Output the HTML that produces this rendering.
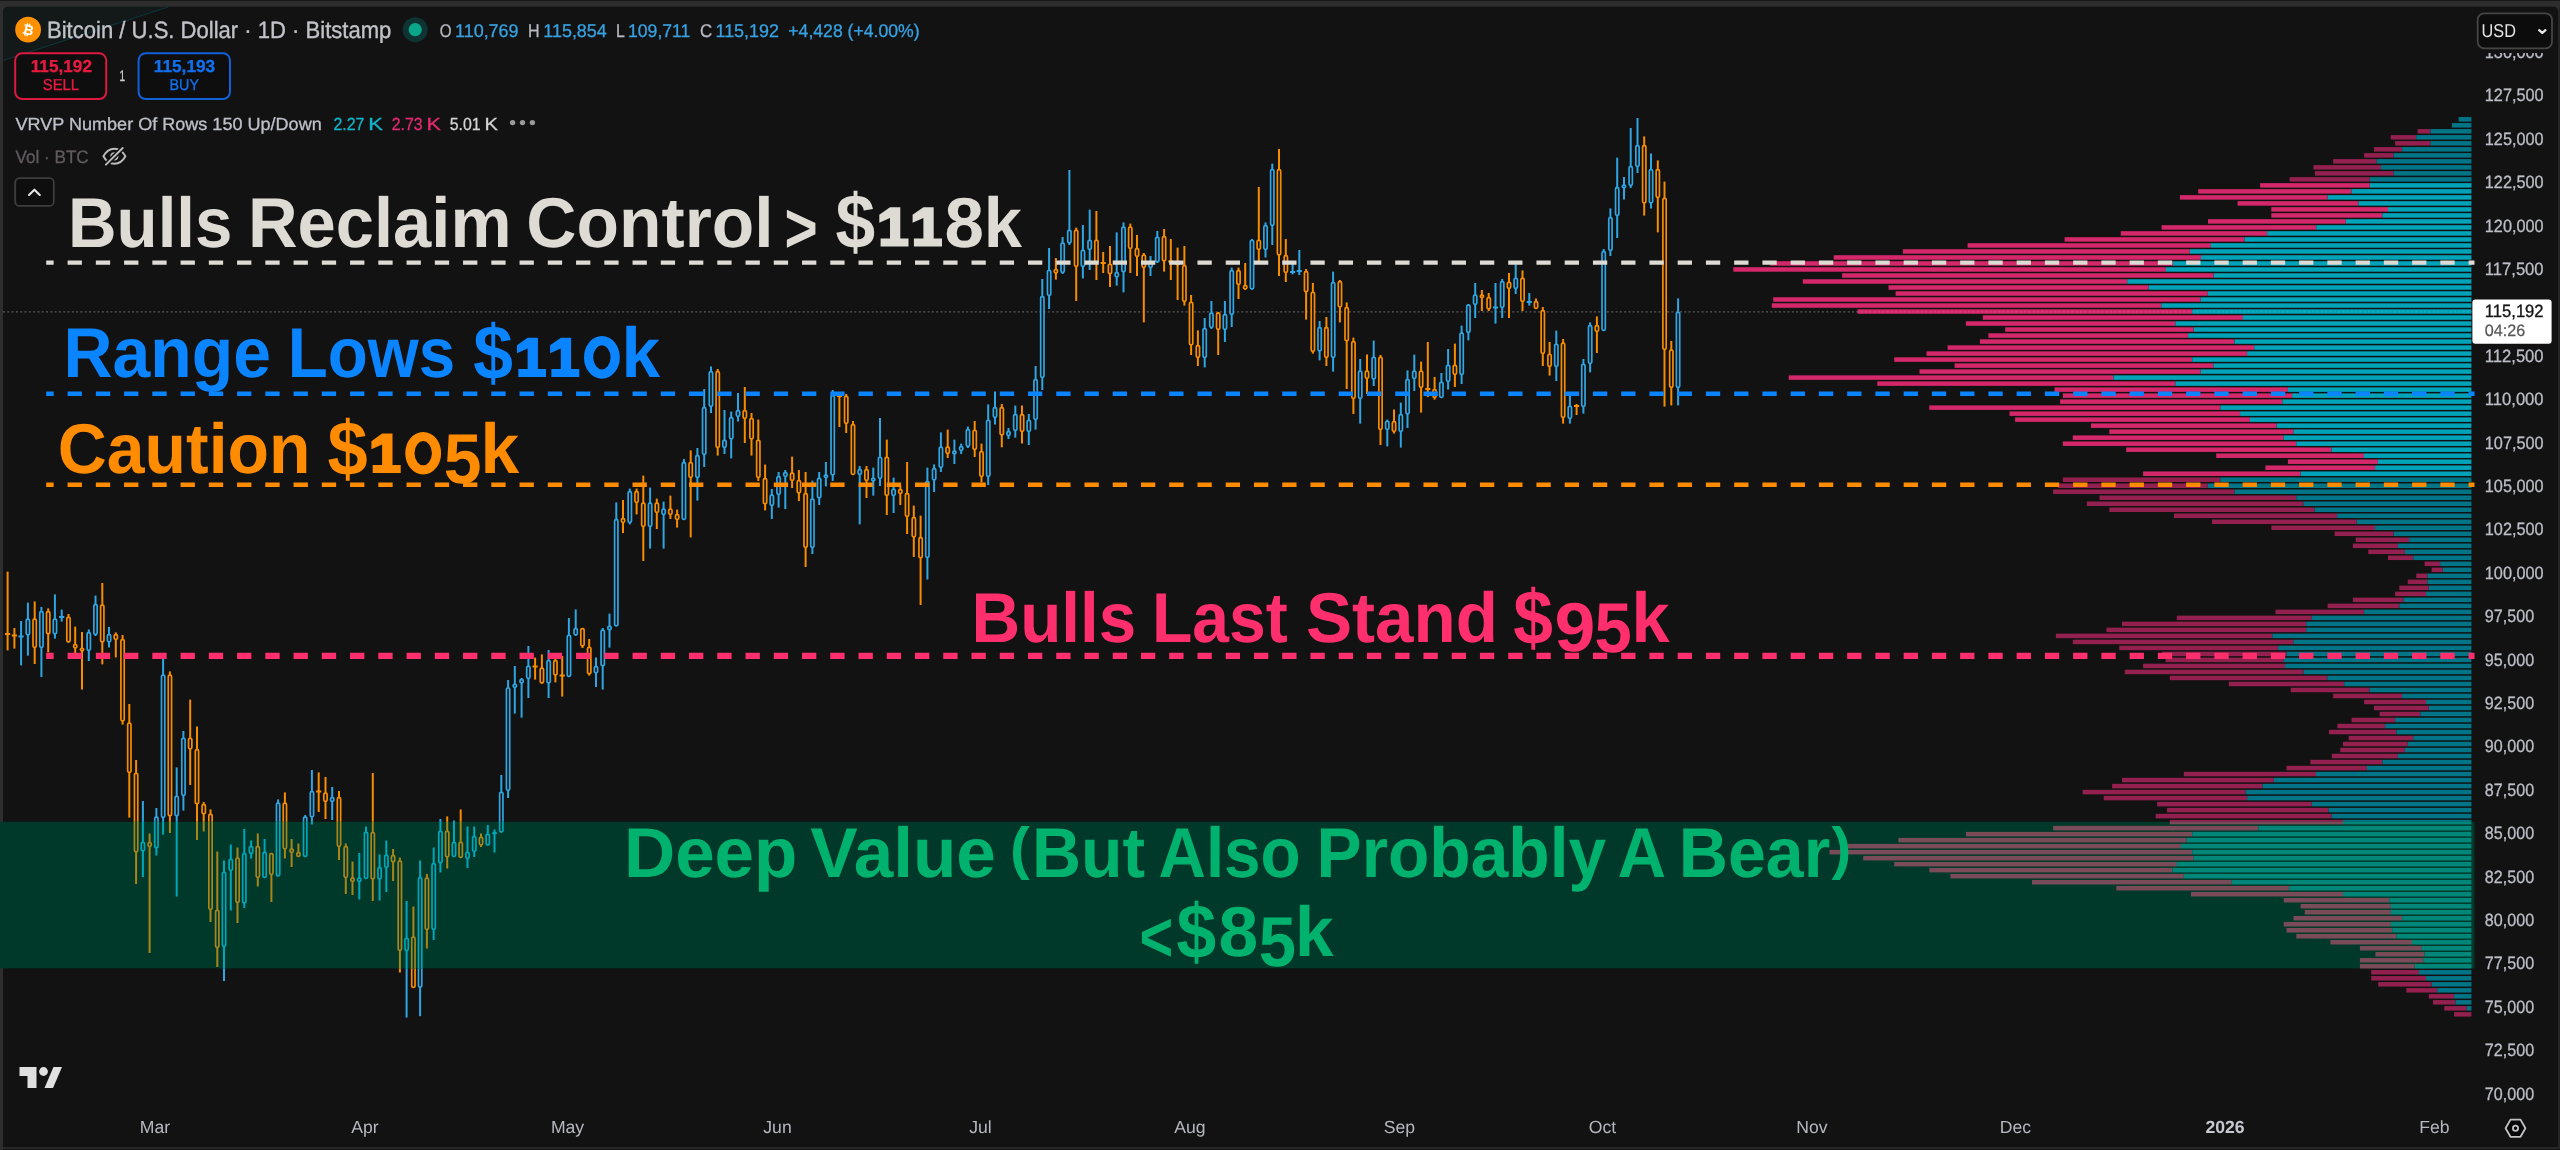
<!DOCTYPE html>
<html><head><meta charset="utf-8"><title>BTCUSD chart</title>
<style>html,body{margin:0;padding:0;background:#121212;overflow:hidden}body{width:2560px;height:1150px;position:relative;font-family:"Liberation Sans",sans-serif}svg{position:absolute;left:0;top:0;display:block;will-change:transform}text{font-family:"Liberation Sans",sans-serif;text-rendering:geometricPrecision}.b{font-weight:bold}</style>
</head><body>
<svg width="2560" height="1150" viewBox="0 0 2560 1150">
<rect x="0" y="0" width="2560" height="1150" fill="#2d2d2d"/>
<rect x="0" y="0" width="2560" height="1" fill="#181818"/>
<path d="M3 1150 V12 Q3 6.7 8.5 6.7 H2553.5 Q2558 6.7 2558 11.5 V1150 Z" fill="#121212"/>
<rect x="2558" y="8" width="2" height="1142" fill="#262626"/>
<rect x="0" y="1" width="3" height="1149" fill="#2e2e2e"/>
<rect x="3" y="1147" width="2555" height="2" fill="#262828"/>
<rect x="3" y="1149" width="2557" height="1" fill="#151515"/>
<path d="M3 60.5 L168 7 L10 7 Q3 7 3 14 Z" fill="#131819"/>
<path d="M3 60.5 L168 7" stroke="#0e363b" stroke-width="1.1" fill="none"/>
<line x1="3" y1="311.9" x2="2474" y2="311.9" stroke="#5a5a5a" stroke-width="1.1" stroke-dasharray="2 2.3"/>
<g fill="#121212">
<path d="M7.6 571.6V650.4" stroke="#f78c00" stroke-width="2"/>
<path d="M5.0 634.0H10.2" stroke="#f78c00" stroke-width="2"/>
<path d="M14.4 628.0V648.6" stroke="#f78c00" stroke-width="2"/>
<path d="M11.8 635.5H17.0" stroke="#f78c00" stroke-width="2"/>
<path d="M21.1 621.0V665.4" stroke="#2fa6e3" stroke-width="2"/>
<path d="M18.5 636.5H23.7" stroke="#2fa6e3" stroke-width="2"/>
<path d="M27.9 602.6V655.6" stroke="#2fa6e3" stroke-width="2"/>
<rect x="26.24" y="619.1" width="3.3" height="15.8" rx="1.3" stroke="#2fa6e3" stroke-width="1.7"/>
<path d="M34.7 601.4V664.0" stroke="#f78c00" stroke-width="2"/>
<rect x="33.00" y="619.1" width="3.3" height="28.2" rx="1.3" stroke="#f78c00" stroke-width="1.7"/>
<path d="M41.4 607.0V677.0" stroke="#2fa6e3" stroke-width="2"/>
<rect x="39.77" y="611.7" width="3.3" height="35.6" rx="1.3" stroke="#2fa6e3" stroke-width="1.7"/>
<path d="M48.2 608.4V652.4" stroke="#f78c00" stroke-width="2"/>
<rect x="46.53" y="611.7" width="3.3" height="22.0" rx="1.3" stroke="#f78c00" stroke-width="1.7"/>
<path d="M54.9 594.4V638.6" stroke="#2fa6e3" stroke-width="2"/>
<rect x="53.29" y="619.1" width="3.3" height="14.6" rx="1.3" stroke="#2fa6e3" stroke-width="1.7"/>
<path d="M61.7 609.6V621.6" stroke="#2fa6e3" stroke-width="2"/>
<path d="M59.1 617.0H64.3" stroke="#2fa6e3" stroke-width="2"/>
<path d="M68.5 614.0V642.6" stroke="#f78c00" stroke-width="2"/>
<rect x="66.82" y="617.3" width="3.3" height="24.6" rx="1.3" stroke="#f78c00" stroke-width="1.7"/>
<path d="M75.2 626.6V653.0" stroke="#f78c00" stroke-width="2"/>
<rect x="73.58" y="644.7" width="3.3" height="3.2" rx="1.3" stroke="#f78c00" stroke-width="1.7"/>
<path d="M82.0 632.0V689.6" stroke="#f78c00" stroke-width="2"/>
<rect x="80.34" y="648.3" width="3.3" height="2.6" rx="1.3" stroke="#f78c00" stroke-width="1.7"/>
<path d="M88.8 629.4V661.0" stroke="#2fa6e3" stroke-width="2"/>
<rect x="87.11" y="632.7" width="3.3" height="17.6" rx="1.3" stroke="#2fa6e3" stroke-width="1.7"/>
<path d="M95.5 595.6V636.0" stroke="#2fa6e3" stroke-width="2"/>
<rect x="93.87" y="604.7" width="3.3" height="29.6" rx="1.3" stroke="#2fa6e3" stroke-width="1.7"/>
<path d="M102.3 583.0V664.4" stroke="#f78c00" stroke-width="2"/>
<rect x="100.63" y="605.1" width="3.3" height="36.8" rx="1.3" stroke="#f78c00" stroke-width="1.7"/>
<path d="M109.0 627.0V647.4" stroke="#2fa6e3" stroke-width="2"/>
<rect x="107.39" y="634.7" width="3.3" height="7.2" rx="1.3" stroke="#2fa6e3" stroke-width="1.7"/>
<path d="M115.8 632.4V657.4" stroke="#f78c00" stroke-width="2"/>
<rect x="114.16" y="634.7" width="3.3" height="4.6" rx="1.3" stroke="#f78c00" stroke-width="1.7"/>
<path d="M122.6 635.0V724.6" stroke="#f78c00" stroke-width="2"/>
<rect x="120.92" y="639.7" width="3.3" height="81.2" rx="1.3" stroke="#f78c00" stroke-width="1.7"/>
<path d="M129.3 704.0V817.6" stroke="#f78c00" stroke-width="2"/>
<rect x="127.68" y="723.1" width="3.3" height="49.2" rx="1.3" stroke="#f78c00" stroke-width="1.7"/>
<path d="M136.1 760.0V884.0" stroke="#f78c00" stroke-width="2"/>
<rect x="134.45" y="773.3" width="3.3" height="78.6" rx="1.3" stroke="#f78c00" stroke-width="1.7"/>
<path d="M142.9 801.0V877.0" stroke="#2fa6e3" stroke-width="2"/>
<rect x="141.21" y="842.3" width="3.3" height="8.6" rx="1.3" stroke="#2fa6e3" stroke-width="1.7"/>
<path d="M149.6 833.6V953.0" stroke="#f78c00" stroke-width="2"/>
<rect x="147.97" y="842.7" width="3.3" height="3.6" rx="1.3" stroke="#f78c00" stroke-width="1.7"/>
<path d="M156.4 808.0V855.6" stroke="#2fa6e3" stroke-width="2"/>
<rect x="154.74" y="817.1" width="3.3" height="30.6" rx="1.3" stroke="#2fa6e3" stroke-width="1.7"/>
<path d="M163.1 658.6V834.4" stroke="#2fa6e3" stroke-width="2"/>
<rect x="161.50" y="675.1" width="3.3" height="142.2" rx="1.3" stroke="#2fa6e3" stroke-width="1.7"/>
<path d="M169.9 671.4V833.0" stroke="#f78c00" stroke-width="2"/>
<rect x="168.26" y="675.1" width="3.3" height="140.6" rx="1.3" stroke="#f78c00" stroke-width="1.7"/>
<path d="M176.7 767.4V896.4" stroke="#2fa6e3" stroke-width="2"/>
<rect x="175.02" y="796.3" width="3.3" height="19.4" rx="1.3" stroke="#2fa6e3" stroke-width="1.7"/>
<path d="M183.4 731.0V810.6" stroke="#2fa6e3" stroke-width="2"/>
<rect x="181.79" y="738.3" width="3.3" height="57.0" rx="1.3" stroke="#2fa6e3" stroke-width="1.7"/>
<path d="M190.2 699.6V785.0" stroke="#f78c00" stroke-width="2"/>
<rect x="188.55" y="738.3" width="3.3" height="10.6" rx="1.3" stroke="#f78c00" stroke-width="1.7"/>
<path d="M197.0 726.6V840.0" stroke="#f78c00" stroke-width="2"/>
<rect x="195.31" y="749.7" width="3.3" height="54.0" rx="1.3" stroke="#f78c00" stroke-width="1.7"/>
<path d="M203.7 802.0V831.6" stroke="#f78c00" stroke-width="2"/>
<rect x="202.08" y="804.7" width="3.3" height="9.0" rx="1.3" stroke="#f78c00" stroke-width="1.7"/>
<path d="M210.5 809.4V922.0" stroke="#f78c00" stroke-width="2"/>
<rect x="208.84" y="814.3" width="3.3" height="95.0" rx="1.3" stroke="#f78c00" stroke-width="1.7"/>
<path d="M217.3 851.6V967.0" stroke="#f78c00" stroke-width="2"/>
<rect x="215.60" y="910.3" width="3.3" height="37.0" rx="1.3" stroke="#f78c00" stroke-width="1.7"/>
<path d="M224.0 860.4V981.0" stroke="#2fa6e3" stroke-width="2"/>
<rect x="222.37" y="872.3" width="3.3" height="74.0" rx="1.3" stroke="#2fa6e3" stroke-width="1.7"/>
<path d="M230.8 844.6V910.6" stroke="#2fa6e3" stroke-width="2"/>
<rect x="229.13" y="859.3" width="3.3" height="11.0" rx="1.3" stroke="#2fa6e3" stroke-width="1.7"/>
<path d="M237.5 847.4V923.0" stroke="#f78c00" stroke-width="2"/>
<rect x="235.89" y="858.1" width="3.3" height="44.2" rx="1.3" stroke="#f78c00" stroke-width="1.7"/>
<path d="M244.3 829.0V908.0" stroke="#2fa6e3" stroke-width="2"/>
<rect x="242.65" y="853.7" width="3.3" height="49.2" rx="1.3" stroke="#2fa6e3" stroke-width="1.7"/>
<path d="M251.1 840.4V858.4" stroke="#2fa6e3" stroke-width="2"/>
<rect x="249.42" y="846.7" width="3.3" height="6.6" rx="1.3" stroke="#2fa6e3" stroke-width="1.7"/>
<path d="M257.8 833.6V886.6" stroke="#f78c00" stroke-width="2"/>
<rect x="256.18" y="846.7" width="3.3" height="30.6" rx="1.3" stroke="#f78c00" stroke-width="1.7"/>
<path d="M264.6 839.0V878.0" stroke="#2fa6e3" stroke-width="2"/>
<rect x="262.94" y="852.3" width="3.3" height="25.0" rx="1.3" stroke="#2fa6e3" stroke-width="1.7"/>
<path d="M271.4 853.0V902.0" stroke="#f78c00" stroke-width="2"/>
<rect x="269.71" y="853.7" width="3.3" height="20.6" rx="1.3" stroke="#f78c00" stroke-width="1.7"/>
<path d="M278.1 799.4V876.4" stroke="#2fa6e3" stroke-width="2"/>
<rect x="276.47" y="803.1" width="3.3" height="72.6" rx="1.3" stroke="#2fa6e3" stroke-width="1.7"/>
<path d="M284.9 792.4V858.4" stroke="#f78c00" stroke-width="2"/>
<rect x="283.23" y="803.1" width="3.3" height="45.8" rx="1.3" stroke="#f78c00" stroke-width="1.7"/>
<path d="M291.6 839.0V867.0" stroke="#f78c00" stroke-width="2"/>
<rect x="290.00" y="849.1" width="3.3" height="3.2" rx="1.3" stroke="#f78c00" stroke-width="1.7"/>
<path d="M298.4 843.4V857.0" stroke="#f78c00" stroke-width="2"/>
<rect x="296.76" y="852.7" width="3.3" height="3.6" rx="1.3" stroke="#f78c00" stroke-width="1.7"/>
<path d="M305.2 815.0V857.0" stroke="#2fa6e3" stroke-width="2"/>
<rect x="303.52" y="817.1" width="3.3" height="39.2" rx="1.3" stroke="#2fa6e3" stroke-width="1.7"/>
<path d="M311.9 770.0V824.4" stroke="#2fa6e3" stroke-width="2"/>
<rect x="310.29" y="791.7" width="3.3" height="25.0" rx="1.3" stroke="#2fa6e3" stroke-width="1.7"/>
<path d="M318.7 772.4V812.0" stroke="#f78c00" stroke-width="2"/>
<path d="M316.1 791.5H321.3" stroke="#f78c00" stroke-width="2"/>
<path d="M325.5 777.0V819.0" stroke="#f78c00" stroke-width="2"/>
<rect x="323.81" y="793.1" width="3.3" height="8.2" rx="1.3" stroke="#f78c00" stroke-width="1.7"/>
<path d="M332.2 787.0V820.0" stroke="#2fa6e3" stroke-width="2"/>
<rect x="330.57" y="797.7" width="3.3" height="3.6" rx="1.3" stroke="#2fa6e3" stroke-width="1.7"/>
<path d="M339.0 791.0V860.0" stroke="#f78c00" stroke-width="2"/>
<rect x="337.34" y="797.7" width="3.3" height="48.6" rx="1.3" stroke="#f78c00" stroke-width="1.7"/>
<path d="M345.8 843.4V894.0" stroke="#f78c00" stroke-width="2"/>
<rect x="344.10" y="846.7" width="3.3" height="30.6" rx="1.3" stroke="#f78c00" stroke-width="1.7"/>
<path d="M352.5 861.6V895.0" stroke="#f78c00" stroke-width="2"/>
<rect x="350.86" y="878.1" width="3.3" height="3.2" rx="1.3" stroke="#f78c00" stroke-width="1.7"/>
<path d="M359.3 853.0V899.4" stroke="#2fa6e3" stroke-width="2"/>
<rect x="357.63" y="878.1" width="3.3" height="3.2" rx="1.3" stroke="#2fa6e3" stroke-width="1.7"/>
<path d="M366.0 826.4V879.0" stroke="#2fa6e3" stroke-width="2"/>
<rect x="364.39" y="832.3" width="3.3" height="46.0" rx="1.3" stroke="#2fa6e3" stroke-width="1.7"/>
<path d="M372.8 773.0V901.0" stroke="#f78c00" stroke-width="2"/>
<rect x="371.15" y="832.7" width="3.3" height="46.2" rx="1.3" stroke="#f78c00" stroke-width="1.7"/>
<path d="M379.6 854.6V900.4" stroke="#2fa6e3" stroke-width="2"/>
<rect x="377.92" y="867.7" width="3.3" height="11.2" rx="1.3" stroke="#2fa6e3" stroke-width="1.7"/>
<path d="M386.3 840.4V892.0" stroke="#2fa6e3" stroke-width="2"/>
<rect x="384.68" y="855.3" width="3.3" height="12.0" rx="1.3" stroke="#2fa6e3" stroke-width="1.7"/>
<path d="M393.1 849.0V881.0" stroke="#f78c00" stroke-width="2"/>
<rect x="391.44" y="855.7" width="3.3" height="6.0" rx="1.3" stroke="#f78c00" stroke-width="1.7"/>
<path d="M399.9 857.4V972.5" stroke="#f78c00" stroke-width="2"/>
<rect x="398.20" y="861.1" width="3.3" height="89.2" rx="1.3" stroke="#f78c00" stroke-width="1.7"/>
<path d="M406.6 901.0V1017.5" stroke="#2fa6e3" stroke-width="2"/>
<rect x="404.97" y="938.3" width="3.3" height="12.0" rx="1.3" stroke="#2fa6e3" stroke-width="1.7"/>
<path d="M413.4 906.6V988.0" stroke="#f78c00" stroke-width="2"/>
<rect x="411.73" y="937.1" width="3.3" height="50.2" rx="1.3" stroke="#f78c00" stroke-width="1.7"/>
<path d="M420.1 860.4V1016.2" stroke="#2fa6e3" stroke-width="2"/>
<rect x="418.49" y="877.7" width="3.3" height="109.4" rx="1.3" stroke="#2fa6e3" stroke-width="1.7"/>
<path d="M426.9 874.0V948.6" stroke="#f78c00" stroke-width="2"/>
<rect x="425.26" y="878.1" width="3.3" height="51.2" rx="1.3" stroke="#f78c00" stroke-width="1.7"/>
<path d="M433.7 847.6V940.0" stroke="#2fa6e3" stroke-width="2"/>
<rect x="432.02" y="863.7" width="3.3" height="65.6" rx="1.3" stroke="#2fa6e3" stroke-width="1.7"/>
<path d="M440.4 819.0V872.6" stroke="#2fa6e3" stroke-width="2"/>
<rect x="438.78" y="831.3" width="3.3" height="31.4" rx="1.3" stroke="#2fa6e3" stroke-width="1.7"/>
<path d="M447.2 816.4V868.4" stroke="#f78c00" stroke-width="2"/>
<rect x="445.55" y="831.3" width="3.3" height="25.6" rx="1.3" stroke="#f78c00" stroke-width="1.7"/>
<path d="M454.0 820.6V857.0" stroke="#2fa6e3" stroke-width="2"/>
<rect x="452.31" y="842.3" width="3.3" height="14.0" rx="1.3" stroke="#2fa6e3" stroke-width="1.7"/>
<path d="M460.7 809.4V858.0" stroke="#f78c00" stroke-width="2"/>
<rect x="459.07" y="842.3" width="3.3" height="15.0" rx="1.3" stroke="#f78c00" stroke-width="1.7"/>
<path d="M467.5 826.6V868.0" stroke="#2fa6e3" stroke-width="2"/>
<rect x="465.83" y="852.3" width="3.3" height="6.0" rx="1.3" stroke="#2fa6e3" stroke-width="1.7"/>
<path d="M474.2 826.6V857.0" stroke="#2fa6e3" stroke-width="2"/>
<rect x="472.60" y="836.7" width="3.3" height="14.6" rx="1.3" stroke="#2fa6e3" stroke-width="1.7"/>
<path d="M481.0 833.6V847.0" stroke="#f78c00" stroke-width="2"/>
<rect x="479.36" y="837.3" width="3.3" height="7.6" rx="1.3" stroke="#f78c00" stroke-width="1.7"/>
<path d="M487.8 825.0V845.6" stroke="#2fa6e3" stroke-width="2"/>
<rect x="486.12" y="834.3" width="3.3" height="10.6" rx="1.3" stroke="#2fa6e3" stroke-width="1.7"/>
<path d="M494.5 829.4V852.6" stroke="#2fa6e3" stroke-width="2"/>
<rect x="492.89" y="832.7" width="3.3" height="1.0" rx="1.3" stroke="#2fa6e3" stroke-width="1.7"/>
<path d="M501.3 775.0V832.6" stroke="#2fa6e3" stroke-width="2"/>
<rect x="499.65" y="792.3" width="3.3" height="39.6" rx="1.3" stroke="#2fa6e3" stroke-width="1.7"/>
<path d="M508.1 680.0V798.0" stroke="#2fa6e3" stroke-width="2"/>
<rect x="506.41" y="688.0" width="3.3" height="102.3" rx="1.3" stroke="#2fa6e3" stroke-width="1.7"/>
<path d="M514.8 666.0V713.6" stroke="#2fa6e3" stroke-width="2"/>
<rect x="513.17" y="684.3" width="3.3" height="3.0" rx="1.3" stroke="#2fa6e3" stroke-width="1.7"/>
<path d="M521.6 678.0V717.6" stroke="#2fa6e3" stroke-width="2"/>
<rect x="519.94" y="679.7" width="3.3" height="3.2" rx="1.3" stroke="#2fa6e3" stroke-width="1.7"/>
<path d="M528.4 646.0V698.0" stroke="#2fa6e3" stroke-width="2"/>
<rect x="526.70" y="666.3" width="3.3" height="12.0" rx="1.3" stroke="#2fa6e3" stroke-width="1.7"/>
<path d="M535.1 657.6V679.6" stroke="#f78c00" stroke-width="2"/>
<path d="M532.5 666.5H537.7" stroke="#f78c00" stroke-width="2"/>
<path d="M541.9 654.4V683.6" stroke="#f78c00" stroke-width="2"/>
<rect x="540.23" y="668.1" width="3.3" height="14.8" rx="1.3" stroke="#f78c00" stroke-width="1.7"/>
<path d="M548.6 650.0V698.0" stroke="#2fa6e3" stroke-width="2"/>
<rect x="546.99" y="660.7" width="3.3" height="22.2" rx="1.3" stroke="#2fa6e3" stroke-width="1.7"/>
<path d="M555.4 658.0V682.4" stroke="#f78c00" stroke-width="2"/>
<rect x="553.75" y="660.7" width="3.3" height="14.2" rx="1.3" stroke="#f78c00" stroke-width="1.7"/>
<path d="M562.2 656.0V696.6" stroke="#f78c00" stroke-width="2"/>
<path d="M559.6 675.5H564.8" stroke="#f78c00" stroke-width="2"/>
<path d="M568.9 618.0V677.0" stroke="#2fa6e3" stroke-width="2"/>
<rect x="567.28" y="635.3" width="3.3" height="41.0" rx="1.3" stroke="#2fa6e3" stroke-width="1.7"/>
<path d="M575.7 609.4V635.6" stroke="#2fa6e3" stroke-width="2"/>
<rect x="574.04" y="628.7" width="3.3" height="6.2" rx="1.3" stroke="#2fa6e3" stroke-width="1.7"/>
<path d="M582.5 628.0V648.0" stroke="#f78c00" stroke-width="2"/>
<rect x="580.81" y="628.7" width="3.3" height="17.2" rx="1.3" stroke="#f78c00" stroke-width="1.7"/>
<path d="M589.2 639.0V675.6" stroke="#f78c00" stroke-width="2"/>
<rect x="587.57" y="647.3" width="3.3" height="26.4" rx="1.3" stroke="#f78c00" stroke-width="1.7"/>
<path d="M596.0 657.6V687.0" stroke="#2fa6e3" stroke-width="2"/>
<rect x="594.33" y="666.7" width="3.3" height="6.2" rx="1.3" stroke="#2fa6e3" stroke-width="1.7"/>
<path d="M602.7 628.0V689.6" stroke="#2fa6e3" stroke-width="2"/>
<rect x="601.09" y="630.1" width="3.3" height="35.6" rx="1.3" stroke="#2fa6e3" stroke-width="1.7"/>
<path d="M609.5 613.6V647.6" stroke="#2fa6e3" stroke-width="2"/>
<rect x="607.86" y="626.3" width="3.3" height="3.4" rx="1.3" stroke="#2fa6e3" stroke-width="1.7"/>
<path d="M616.3 502.4V626.4" stroke="#2fa6e3" stroke-width="2"/>
<rect x="614.62" y="519.7" width="3.3" height="106.0" rx="1.3" stroke="#2fa6e3" stroke-width="1.7"/>
<path d="M623.0 500.0V533.0" stroke="#f78c00" stroke-width="2"/>
<rect x="621.38" y="518.7" width="3.3" height="3.6" rx="1.3" stroke="#f78c00" stroke-width="1.7"/>
<path d="M629.8 488.6V524.4" stroke="#2fa6e3" stroke-width="2"/>
<rect x="628.15" y="491.7" width="3.3" height="30.6" rx="1.3" stroke="#2fa6e3" stroke-width="1.7"/>
<path d="M636.6 488.6V514.4" stroke="#f78c00" stroke-width="2"/>
<rect x="634.91" y="491.7" width="3.3" height="10.6" rx="1.3" stroke="#f78c00" stroke-width="1.7"/>
<path d="M643.3 475.6V561.0" stroke="#f78c00" stroke-width="2"/>
<rect x="641.67" y="503.1" width="3.3" height="23.2" rx="1.3" stroke="#f78c00" stroke-width="1.7"/>
<path d="M650.1 487.6V548.6" stroke="#2fa6e3" stroke-width="2"/>
<rect x="648.44" y="503.1" width="3.3" height="23.2" rx="1.3" stroke="#2fa6e3" stroke-width="1.7"/>
<path d="M656.8 498.6V529.0" stroke="#f78c00" stroke-width="2"/>
<rect x="655.20" y="503.1" width="3.3" height="9.2" rx="1.3" stroke="#f78c00" stroke-width="1.7"/>
<path d="M663.6 501.6V548.6" stroke="#2fa6e3" stroke-width="2"/>
<rect x="661.96" y="509.1" width="3.3" height="5.2" rx="1.3" stroke="#2fa6e3" stroke-width="1.7"/>
<path d="M670.4 495.6V519.0" stroke="#f78c00" stroke-width="2"/>
<rect x="668.72" y="509.1" width="3.3" height="5.2" rx="1.3" stroke="#f78c00" stroke-width="1.7"/>
<path d="M677.1 509.6V527.6" stroke="#f78c00" stroke-width="2"/>
<rect x="675.49" y="514.7" width="3.3" height="4.6" rx="1.3" stroke="#f78c00" stroke-width="1.7"/>
<path d="M683.9 459.0V520.0" stroke="#2fa6e3" stroke-width="2"/>
<rect x="682.25" y="462.7" width="3.3" height="56.6" rx="1.3" stroke="#2fa6e3" stroke-width="1.7"/>
<path d="M690.7 450.4V537.4" stroke="#f78c00" stroke-width="2"/>
<rect x="689.01" y="462.7" width="3.3" height="14.6" rx="1.3" stroke="#f78c00" stroke-width="1.7"/>
<path d="M697.4 448.0V500.6" stroke="#2fa6e3" stroke-width="2"/>
<rect x="695.78" y="455.7" width="3.3" height="21.6" rx="1.3" stroke="#2fa6e3" stroke-width="1.7"/>
<path d="M704.2 389.0V467.0" stroke="#2fa6e3" stroke-width="2"/>
<rect x="702.54" y="407.7" width="3.3" height="46.6" rx="1.3" stroke="#2fa6e3" stroke-width="1.7"/>
<path d="M711.0 366.4V413.0" stroke="#2fa6e3" stroke-width="2"/>
<rect x="709.30" y="371.7" width="3.3" height="34.6" rx="1.3" stroke="#2fa6e3" stroke-width="1.7"/>
<path d="M717.7 369.0V455.6" stroke="#f78c00" stroke-width="2"/>
<rect x="716.07" y="371.7" width="3.3" height="75.6" rx="1.3" stroke="#f78c00" stroke-width="1.7"/>
<path d="M724.5 410.0V454.0" stroke="#2fa6e3" stroke-width="2"/>
<rect x="722.83" y="440.3" width="3.3" height="7.0" rx="1.3" stroke="#2fa6e3" stroke-width="1.7"/>
<path d="M731.2 411.6V458.4" stroke="#2fa6e3" stroke-width="2"/>
<rect x="729.59" y="417.7" width="3.3" height="21.2" rx="1.3" stroke="#2fa6e3" stroke-width="1.7"/>
<path d="M738.0 393.0V421.6" stroke="#2fa6e3" stroke-width="2"/>
<rect x="736.35" y="410.7" width="3.3" height="5.6" rx="1.3" stroke="#2fa6e3" stroke-width="1.7"/>
<path d="M744.8 387.0V443.0" stroke="#f78c00" stroke-width="2"/>
<rect x="743.12" y="410.7" width="3.3" height="7.6" rx="1.3" stroke="#f78c00" stroke-width="1.7"/>
<path d="M751.5 413.0V455.6" stroke="#f78c00" stroke-width="2"/>
<rect x="749.88" y="418.7" width="3.3" height="20.2" rx="1.3" stroke="#f78c00" stroke-width="1.7"/>
<path d="M758.3 419.6V481.0" stroke="#f78c00" stroke-width="2"/>
<rect x="756.64" y="440.3" width="3.3" height="37.0" rx="1.3" stroke="#f78c00" stroke-width="1.7"/>
<path d="M765.1 464.6V510.4" stroke="#f78c00" stroke-width="2"/>
<rect x="763.41" y="478.7" width="3.3" height="25.0" rx="1.3" stroke="#f78c00" stroke-width="1.7"/>
<path d="M771.8 489.0V519.0" stroke="#2fa6e3" stroke-width="2"/>
<rect x="770.17" y="495.1" width="3.3" height="10.2" rx="1.3" stroke="#2fa6e3" stroke-width="1.7"/>
<path d="M778.6 472.0V507.6" stroke="#2fa6e3" stroke-width="2"/>
<rect x="776.93" y="476.7" width="3.3" height="17.6" rx="1.3" stroke="#2fa6e3" stroke-width="1.7"/>
<path d="M785.3 470.0V509.0" stroke="#2fa6e3" stroke-width="2"/>
<rect x="783.70" y="472.7" width="3.3" height="3.6" rx="1.3" stroke="#2fa6e3" stroke-width="1.7"/>
<path d="M792.1 456.6V488.0" stroke="#f78c00" stroke-width="2"/>
<rect x="790.46" y="473.1" width="3.3" height="7.2" rx="1.3" stroke="#f78c00" stroke-width="1.7"/>
<path d="M798.9 470.0V501.0" stroke="#f78c00" stroke-width="2"/>
<rect x="797.22" y="480.7" width="3.3" height="12.2" rx="1.3" stroke="#f78c00" stroke-width="1.7"/>
<path d="M805.6 472.0V567.0" stroke="#f78c00" stroke-width="2"/>
<rect x="803.98" y="493.7" width="3.3" height="53.6" rx="1.3" stroke="#f78c00" stroke-width="1.7"/>
<path d="M812.4 480.6V554.0" stroke="#2fa6e3" stroke-width="2"/>
<rect x="810.75" y="499.1" width="3.3" height="48.2" rx="1.3" stroke="#2fa6e3" stroke-width="1.7"/>
<path d="M819.2 472.0V505.0" stroke="#2fa6e3" stroke-width="2"/>
<rect x="817.51" y="478.3" width="3.3" height="19.4" rx="1.3" stroke="#2fa6e3" stroke-width="1.7"/>
<path d="M825.9 462.0V486.4" stroke="#2fa6e3" stroke-width="2"/>
<rect x="824.27" y="475.1" width="3.3" height="2.2" rx="1.3" stroke="#2fa6e3" stroke-width="1.7"/>
<path d="M832.7 390.0V481.0" stroke="#2fa6e3" stroke-width="2"/>
<rect x="831.04" y="395.7" width="3.3" height="79.2" rx="1.3" stroke="#2fa6e3" stroke-width="1.7"/>
<path d="M839.4 395.6V427.0" stroke="#f78c00" stroke-width="2"/>
<path d="M836.8 396.1H842.0" stroke="#f78c00" stroke-width="2"/>
<path d="M846.2 394.0V433.0" stroke="#f78c00" stroke-width="2"/>
<rect x="844.56" y="396.3" width="3.3" height="27.0" rx="1.3" stroke="#f78c00" stroke-width="1.7"/>
<path d="M853.0 421.0V475.0" stroke="#f78c00" stroke-width="2"/>
<rect x="851.33" y="424.7" width="3.3" height="49.6" rx="1.3" stroke="#f78c00" stroke-width="1.7"/>
<path d="M859.7 466.0V524.4" stroke="#2fa6e3" stroke-width="2"/>
<rect x="858.09" y="469.7" width="3.3" height="4.6" rx="1.3" stroke="#2fa6e3" stroke-width="1.7"/>
<path d="M866.5 466.0V498.0" stroke="#f78c00" stroke-width="2"/>
<rect x="864.85" y="469.7" width="3.3" height="10.6" rx="1.3" stroke="#f78c00" stroke-width="1.7"/>
<path d="M873.3 467.6V495.6" stroke="#2fa6e3" stroke-width="2"/>
<rect x="871.61" y="478.3" width="3.3" height="2.6" rx="1.3" stroke="#2fa6e3" stroke-width="1.7"/>
<path d="M880.0 418.0V486.0" stroke="#2fa6e3" stroke-width="2"/>
<rect x="878.38" y="457.3" width="3.3" height="21.0" rx="1.3" stroke="#2fa6e3" stroke-width="1.7"/>
<path d="M886.8 439.6V515.0" stroke="#f78c00" stroke-width="2"/>
<rect x="885.14" y="457.3" width="3.3" height="38.0" rx="1.3" stroke="#f78c00" stroke-width="1.7"/>
<path d="M893.6 477.6V513.0" stroke="#2fa6e3" stroke-width="2"/>
<rect x="891.90" y="489.3" width="3.3" height="6.0" rx="1.3" stroke="#2fa6e3" stroke-width="1.7"/>
<path d="M900.3 485.6V505.0" stroke="#f78c00" stroke-width="2"/>
<rect x="898.67" y="489.7" width="3.3" height="3.6" rx="1.3" stroke="#f78c00" stroke-width="1.7"/>
<path d="M907.1 462.0V534.0" stroke="#f78c00" stroke-width="2"/>
<rect x="905.43" y="493.7" width="3.3" height="22.6" rx="1.3" stroke="#f78c00" stroke-width="1.7"/>
<path d="M913.8 505.6V557.0" stroke="#f78c00" stroke-width="2"/>
<rect x="912.19" y="517.7" width="3.3" height="19.2" rx="1.3" stroke="#f78c00" stroke-width="1.7"/>
<path d="M920.6 515.6V605.0" stroke="#f78c00" stroke-width="2"/>
<rect x="918.96" y="537.7" width="3.3" height="20.0" rx="1.3" stroke="#f78c00" stroke-width="1.7"/>
<path d="M927.4 467.6V579.5" stroke="#2fa6e3" stroke-width="2"/>
<rect x="925.72" y="481.7" width="3.3" height="75.6" rx="1.3" stroke="#2fa6e3" stroke-width="1.7"/>
<path d="M934.1 464.4V492.0" stroke="#2fa6e3" stroke-width="2"/>
<rect x="932.48" y="468.7" width="3.3" height="11.2" rx="1.3" stroke="#2fa6e3" stroke-width="1.7"/>
<path d="M940.9 432.4V472.0" stroke="#2fa6e3" stroke-width="2"/>
<rect x="939.24" y="447.1" width="3.3" height="20.2" rx="1.3" stroke="#2fa6e3" stroke-width="1.7"/>
<path d="M947.7 429.6V458.0" stroke="#f78c00" stroke-width="2"/>
<rect x="946.01" y="447.1" width="3.3" height="6.2" rx="1.3" stroke="#f78c00" stroke-width="1.7"/>
<path d="M954.4 439.6V464.0" stroke="#2fa6e3" stroke-width="2"/>
<rect x="952.77" y="451.1" width="3.3" height="2.6" rx="1.3" stroke="#2fa6e3" stroke-width="1.7"/>
<path d="M961.2 443.6V454.0" stroke="#2fa6e3" stroke-width="2"/>
<rect x="959.53" y="446.7" width="3.3" height="3.6" rx="1.3" stroke="#2fa6e3" stroke-width="1.7"/>
<path d="M967.9 426.6V448.0" stroke="#2fa6e3" stroke-width="2"/>
<rect x="966.30" y="429.7" width="3.3" height="16.6" rx="1.3" stroke="#2fa6e3" stroke-width="1.7"/>
<path d="M974.7 421.0V457.0" stroke="#f78c00" stroke-width="2"/>
<rect x="973.06" y="430.3" width="3.3" height="19.0" rx="1.3" stroke="#f78c00" stroke-width="1.7"/>
<path d="M981.5 443.6V482.4" stroke="#f78c00" stroke-width="2"/>
<rect x="979.82" y="451.7" width="3.3" height="24.6" rx="1.3" stroke="#f78c00" stroke-width="1.7"/>
<path d="M988.2 404.4V485.0" stroke="#2fa6e3" stroke-width="2"/>
<rect x="986.59" y="420.3" width="3.3" height="56.0" rx="1.3" stroke="#2fa6e3" stroke-width="1.7"/>
<path d="M995.0 391.6V424.4" stroke="#2fa6e3" stroke-width="2"/>
<rect x="993.35" y="407.7" width="3.3" height="9.6" rx="1.3" stroke="#2fa6e3" stroke-width="1.7"/>
<path d="M1001.8 404.0V447.3" stroke="#f78c00" stroke-width="2"/>
<rect x="1000.11" y="407.7" width="3.3" height="27.1" rx="1.3" stroke="#f78c00" stroke-width="1.7"/>
<path d="M1008.5 428.0V439.0" stroke="#2fa6e3" stroke-width="2"/>
<rect x="1006.87" y="431.7" width="3.3" height="3.6" rx="1.3" stroke="#2fa6e3" stroke-width="1.7"/>
<path d="M1015.3 405.6V437.6" stroke="#2fa6e3" stroke-width="2"/>
<rect x="1013.64" y="414.7" width="3.3" height="15.6" rx="1.3" stroke="#2fa6e3" stroke-width="1.7"/>
<path d="M1022.0 405.6V443.6" stroke="#f78c00" stroke-width="2"/>
<rect x="1020.40" y="414.7" width="3.3" height="16.6" rx="1.3" stroke="#f78c00" stroke-width="1.7"/>
<path d="M1028.8 414.0V445.0" stroke="#2fa6e3" stroke-width="2"/>
<rect x="1027.16" y="420.3" width="3.3" height="11.0" rx="1.3" stroke="#2fa6e3" stroke-width="1.7"/>
<path d="M1035.6 366.0V429.6" stroke="#2fa6e3" stroke-width="2"/>
<rect x="1033.93" y="379.7" width="3.3" height="39.6" rx="1.3" stroke="#2fa6e3" stroke-width="1.7"/>
<path d="M1042.3 279.0V390.0" stroke="#2fa6e3" stroke-width="2"/>
<rect x="1040.69" y="296.7" width="3.3" height="80.6" rx="1.3" stroke="#2fa6e3" stroke-width="1.7"/>
<path d="M1049.1 248.0V309.0" stroke="#2fa6e3" stroke-width="2"/>
<rect x="1047.45" y="270.3" width="3.3" height="25.0" rx="1.3" stroke="#2fa6e3" stroke-width="1.7"/>
<path d="M1055.9 258.0V279.6" stroke="#f78c00" stroke-width="2"/>
<rect x="1054.21" y="269.7" width="3.3" height="3.2" rx="1.3" stroke="#f78c00" stroke-width="1.7"/>
<path d="M1062.6 237.0V274.0" stroke="#2fa6e3" stroke-width="2"/>
<rect x="1060.98" y="243.1" width="3.3" height="29.2" rx="1.3" stroke="#2fa6e3" stroke-width="1.7"/>
<path d="M1069.4 170.0V245.0" stroke="#2fa6e3" stroke-width="2"/>
<rect x="1067.74" y="230.3" width="3.3" height="12.6" rx="1.3" stroke="#2fa6e3" stroke-width="1.7"/>
<path d="M1076.2 227.6V301.0" stroke="#f78c00" stroke-width="2"/>
<rect x="1074.50" y="230.3" width="3.3" height="36.0" rx="1.3" stroke="#f78c00" stroke-width="1.7"/>
<path d="M1082.9 225.0V278.4" stroke="#2fa6e3" stroke-width="2"/>
<rect x="1081.27" y="250.3" width="3.3" height="16.0" rx="1.3" stroke="#2fa6e3" stroke-width="1.7"/>
<path d="M1089.7 209.6V270.0" stroke="#2fa6e3" stroke-width="2"/>
<rect x="1088.03" y="240.3" width="3.3" height="9.0" rx="1.3" stroke="#2fa6e3" stroke-width="1.7"/>
<path d="M1096.4 211.0V280.0" stroke="#f78c00" stroke-width="2"/>
<rect x="1094.79" y="240.3" width="3.3" height="22.0" rx="1.3" stroke="#f78c00" stroke-width="1.7"/>
<path d="M1103.2 252.0V273.0" stroke="#f78c00" stroke-width="2"/>
<path d="M1100.6 263.0H1105.8" stroke="#f78c00" stroke-width="2"/>
<path d="M1110.0 246.0V287.0" stroke="#f78c00" stroke-width="2"/>
<rect x="1108.32" y="264.3" width="3.3" height="9.4" rx="1.3" stroke="#f78c00" stroke-width="1.7"/>
<path d="M1116.7 232.4V285.6" stroke="#2fa6e3" stroke-width="2"/>
<rect x="1115.08" y="272.7" width="3.3" height="4.2" rx="1.3" stroke="#2fa6e3" stroke-width="1.7"/>
<path d="M1123.5 222.4V292.4" stroke="#2fa6e3" stroke-width="2"/>
<rect x="1121.84" y="227.1" width="3.3" height="44.6" rx="1.3" stroke="#2fa6e3" stroke-width="1.7"/>
<path d="M1130.3 223.6V273.0" stroke="#f78c00" stroke-width="2"/>
<rect x="1128.61" y="227.1" width="3.3" height="21.2" rx="1.3" stroke="#f78c00" stroke-width="1.7"/>
<path d="M1137.0 235.0V276.0" stroke="#f78c00" stroke-width="2"/>
<rect x="1135.37" y="248.7" width="3.3" height="7.6" rx="1.3" stroke="#f78c00" stroke-width="1.7"/>
<path d="M1143.8 253.0V322.4" stroke="#f78c00" stroke-width="2"/>
<rect x="1142.13" y="255.1" width="3.3" height="12.2" rx="1.3" stroke="#f78c00" stroke-width="1.7"/>
<path d="M1150.5 256.0V276.0" stroke="#2fa6e3" stroke-width="2"/>
<rect x="1148.90" y="261.7" width="3.3" height="5.6" rx="1.3" stroke="#2fa6e3" stroke-width="1.7"/>
<path d="M1157.3 231.0V263.0" stroke="#2fa6e3" stroke-width="2"/>
<rect x="1155.66" y="237.3" width="3.3" height="24.4" rx="1.3" stroke="#2fa6e3" stroke-width="1.7"/>
<path d="M1164.1 229.0V271.6" stroke="#f78c00" stroke-width="2"/>
<rect x="1162.42" y="236.7" width="3.3" height="24.2" rx="1.3" stroke="#f78c00" stroke-width="1.7"/>
<path d="M1170.8 239.0V280.0" stroke="#f78c00" stroke-width="2"/>
<path d="M1168.2 261.5H1173.4" stroke="#f78c00" stroke-width="2"/>
<path d="M1177.6 247.6V300.0" stroke="#f78c00" stroke-width="2"/>
<rect x="1175.95" y="262.3" width="3.3" height="2.6" rx="1.3" stroke="#f78c00" stroke-width="1.7"/>
<path d="M1184.4 246.0V305.6" stroke="#f78c00" stroke-width="2"/>
<rect x="1182.71" y="265.7" width="3.3" height="35.6" rx="1.3" stroke="#f78c00" stroke-width="1.7"/>
<path d="M1191.1 295.0V355.0" stroke="#f78c00" stroke-width="2"/>
<rect x="1189.47" y="302.3" width="3.3" height="42.6" rx="1.3" stroke="#f78c00" stroke-width="1.7"/>
<path d="M1197.9 330.4V366.0" stroke="#f78c00" stroke-width="2"/>
<rect x="1196.24" y="345.7" width="3.3" height="11.6" rx="1.3" stroke="#f78c00" stroke-width="1.7"/>
<path d="M1204.7 318.0V367.4" stroke="#2fa6e3" stroke-width="2"/>
<rect x="1203.00" y="328.7" width="3.3" height="28.6" rx="1.3" stroke="#2fa6e3" stroke-width="1.7"/>
<path d="M1211.4 301.0V329.0" stroke="#2fa6e3" stroke-width="2"/>
<rect x="1209.76" y="313.1" width="3.3" height="14.2" rx="1.3" stroke="#2fa6e3" stroke-width="1.7"/>
<path d="M1218.2 312.0V355.0" stroke="#f78c00" stroke-width="2"/>
<rect x="1216.53" y="313.1" width="3.3" height="16.2" rx="1.3" stroke="#f78c00" stroke-width="1.7"/>
<path d="M1224.9 301.0V342.0" stroke="#2fa6e3" stroke-width="2"/>
<rect x="1223.29" y="314.7" width="3.3" height="14.6" rx="1.3" stroke="#2fa6e3" stroke-width="1.7"/>
<path d="M1231.7 267.6V327.0" stroke="#2fa6e3" stroke-width="2"/>
<rect x="1230.05" y="270.7" width="3.3" height="43.6" rx="1.3" stroke="#2fa6e3" stroke-width="1.7"/>
<path d="M1238.5 267.6V299.0" stroke="#f78c00" stroke-width="2"/>
<rect x="1236.82" y="270.7" width="3.3" height="13.6" rx="1.3" stroke="#f78c00" stroke-width="1.7"/>
<path d="M1245.2 263.0V289.6" stroke="#f78c00" stroke-width="2"/>
<rect x="1243.58" y="285.7" width="3.3" height="3.2" rx="1.3" stroke="#f78c00" stroke-width="1.7"/>
<path d="M1252.0 239.0V289.6" stroke="#2fa6e3" stroke-width="2"/>
<rect x="1250.34" y="240.3" width="3.3" height="48.6" rx="1.3" stroke="#2fa6e3" stroke-width="1.7"/>
<path d="M1258.8 187.0V261.0" stroke="#f78c00" stroke-width="2"/>
<rect x="1257.10" y="240.3" width="3.3" height="9.0" rx="1.3" stroke="#f78c00" stroke-width="1.7"/>
<path d="M1265.5 222.4V257.6" stroke="#2fa6e3" stroke-width="2"/>
<rect x="1263.87" y="225.7" width="3.3" height="23.6" rx="1.3" stroke="#2fa6e3" stroke-width="1.7"/>
<path d="M1272.3 163.6V245.0" stroke="#2fa6e3" stroke-width="2"/>
<rect x="1270.63" y="169.7" width="3.3" height="55.6" rx="1.3" stroke="#2fa6e3" stroke-width="1.7"/>
<path d="M1279.0 149.0V276.0" stroke="#f78c00" stroke-width="2"/>
<rect x="1277.39" y="169.7" width="3.3" height="85.2" rx="1.3" stroke="#f78c00" stroke-width="1.7"/>
<path d="M1285.8 239.0V282.0" stroke="#f78c00" stroke-width="2"/>
<rect x="1284.16" y="255.7" width="3.3" height="16.6" rx="1.3" stroke="#f78c00" stroke-width="1.7"/>
<path d="M1292.6 264.0V274.4" stroke="#2fa6e3" stroke-width="2"/>
<path d="M1290.0 272.0H1295.2" stroke="#2fa6e3" stroke-width="2"/>
<path d="M1299.3 250.0V275.0" stroke="#2fa6e3" stroke-width="2"/>
<path d="M1296.7 271.0H1301.9" stroke="#2fa6e3" stroke-width="2"/>
<path d="M1306.1 269.0V319.6" stroke="#f78c00" stroke-width="2"/>
<rect x="1304.45" y="271.7" width="3.3" height="20.0" rx="1.3" stroke="#f78c00" stroke-width="1.7"/>
<path d="M1312.9 283.0V353.6" stroke="#f78c00" stroke-width="2"/>
<rect x="1311.21" y="292.3" width="3.3" height="59.0" rx="1.3" stroke="#f78c00" stroke-width="1.7"/>
<path d="M1319.6 321.0V360.4" stroke="#2fa6e3" stroke-width="2"/>
<rect x="1317.97" y="327.7" width="3.3" height="23.2" rx="1.3" stroke="#2fa6e3" stroke-width="1.7"/>
<path d="M1326.4 317.0V366.0" stroke="#f78c00" stroke-width="2"/>
<rect x="1324.73" y="327.7" width="3.3" height="29.6" rx="1.3" stroke="#f78c00" stroke-width="1.7"/>
<path d="M1333.1 271.6V371.6" stroke="#2fa6e3" stroke-width="2"/>
<rect x="1331.50" y="282.7" width="3.3" height="74.6" rx="1.3" stroke="#2fa6e3" stroke-width="1.7"/>
<path d="M1339.9 280.0V322.4" stroke="#f78c00" stroke-width="2"/>
<rect x="1338.26" y="281.7" width="3.3" height="25.2" rx="1.3" stroke="#f78c00" stroke-width="1.7"/>
<path d="M1346.7 302.4V389.0" stroke="#f78c00" stroke-width="2"/>
<rect x="1345.02" y="307.7" width="3.3" height="33.0" rx="1.3" stroke="#f78c00" stroke-width="1.7"/>
<path d="M1353.4 337.6V414.0" stroke="#f78c00" stroke-width="2"/>
<rect x="1351.79" y="341.7" width="3.3" height="56.6" rx="1.3" stroke="#f78c00" stroke-width="1.7"/>
<path d="M1360.2 359.0V423.6" stroke="#2fa6e3" stroke-width="2"/>
<rect x="1358.55" y="371.1" width="3.3" height="27.2" rx="1.3" stroke="#2fa6e3" stroke-width="1.7"/>
<path d="M1367.0 354.4V394.0" stroke="#f78c00" stroke-width="2"/>
<rect x="1365.31" y="371.1" width="3.3" height="7.2" rx="1.3" stroke="#f78c00" stroke-width="1.7"/>
<path d="M1373.7 340.6V386.0" stroke="#2fa6e3" stroke-width="2"/>
<rect x="1372.08" y="357.3" width="3.3" height="21.6" rx="1.3" stroke="#2fa6e3" stroke-width="1.7"/>
<path d="M1380.5 355.0V445.0" stroke="#f78c00" stroke-width="2"/>
<rect x="1378.84" y="357.3" width="3.3" height="72.0" rx="1.3" stroke="#f78c00" stroke-width="1.7"/>
<path d="M1387.3 419.6V446.4" stroke="#2fa6e3" stroke-width="2"/>
<rect x="1385.60" y="421.3" width="3.3" height="8.0" rx="1.3" stroke="#2fa6e3" stroke-width="1.7"/>
<path d="M1394.0 409.6V433.6" stroke="#f78c00" stroke-width="2"/>
<rect x="1392.36" y="421.7" width="3.3" height="9.6" rx="1.3" stroke="#f78c00" stroke-width="1.7"/>
<path d="M1400.8 402.6V447.6" stroke="#2fa6e3" stroke-width="2"/>
<rect x="1399.13" y="414.7" width="3.3" height="16.6" rx="1.3" stroke="#2fa6e3" stroke-width="1.7"/>
<path d="M1407.5 370.4V428.0" stroke="#2fa6e3" stroke-width="2"/>
<rect x="1405.89" y="379.7" width="3.3" height="34.2" rx="1.3" stroke="#2fa6e3" stroke-width="1.7"/>
<path d="M1414.3 354.6V391.0" stroke="#2fa6e3" stroke-width="2"/>
<rect x="1412.65" y="371.1" width="3.3" height="7.2" rx="1.3" stroke="#2fa6e3" stroke-width="1.7"/>
<path d="M1421.1 361.6V412.6" stroke="#f78c00" stroke-width="2"/>
<rect x="1419.42" y="371.1" width="3.3" height="16.2" rx="1.3" stroke="#f78c00" stroke-width="1.7"/>
<path d="M1427.8 342.0V397.0" stroke="#f78c00" stroke-width="2"/>
<path d="M1425.2 389.0H1430.4" stroke="#f78c00" stroke-width="2"/>
<path d="M1434.6 377.0V399.6" stroke="#f78c00" stroke-width="2"/>
<rect x="1432.94" y="389.7" width="3.3" height="7.6" rx="1.3" stroke="#f78c00" stroke-width="1.7"/>
<path d="M1441.4 373.0V398.0" stroke="#2fa6e3" stroke-width="2"/>
<rect x="1439.71" y="382.3" width="3.3" height="15.0" rx="1.3" stroke="#2fa6e3" stroke-width="1.7"/>
<path d="M1448.1 349.0V389.6" stroke="#2fa6e3" stroke-width="2"/>
<rect x="1446.47" y="365.3" width="3.3" height="16.0" rx="1.3" stroke="#2fa6e3" stroke-width="1.7"/>
<path d="M1454.9 343.6V387.0" stroke="#f78c00" stroke-width="2"/>
<rect x="1453.23" y="365.3" width="3.3" height="9.0" rx="1.3" stroke="#f78c00" stroke-width="1.7"/>
<path d="M1461.6 325.6V384.0" stroke="#2fa6e3" stroke-width="2"/>
<rect x="1459.99" y="333.1" width="3.3" height="41.2" rx="1.3" stroke="#2fa6e3" stroke-width="1.7"/>
<path d="M1468.4 304.0V340.4" stroke="#2fa6e3" stroke-width="2"/>
<rect x="1466.76" y="305.1" width="3.3" height="27.2" rx="1.3" stroke="#2fa6e3" stroke-width="1.7"/>
<path d="M1475.2 283.0V318.0" stroke="#2fa6e3" stroke-width="2"/>
<rect x="1473.52" y="295.1" width="3.3" height="9.2" rx="1.3" stroke="#2fa6e3" stroke-width="1.7"/>
<path d="M1481.9 290.0V311.0" stroke="#f78c00" stroke-width="2"/>
<rect x="1480.28" y="295.1" width="3.3" height="2.2" rx="1.3" stroke="#f78c00" stroke-width="1.7"/>
<path d="M1488.7 293.0V311.0" stroke="#f78c00" stroke-width="2"/>
<rect x="1487.05" y="297.7" width="3.3" height="11.2" rx="1.3" stroke="#f78c00" stroke-width="1.7"/>
<path d="M1495.5 283.0V323.6" stroke="#2fa6e3" stroke-width="2"/>
<path d="M1492.9 307.5H1498.1" stroke="#2fa6e3" stroke-width="2"/>
<path d="M1502.2 279.0V318.0" stroke="#2fa6e3" stroke-width="2"/>
<rect x="1500.57" y="281.7" width="3.3" height="25.6" rx="1.3" stroke="#2fa6e3" stroke-width="1.7"/>
<path d="M1509.0 273.0V318.0" stroke="#f78c00" stroke-width="2"/>
<rect x="1507.34" y="282.3" width="3.3" height="6.0" rx="1.3" stroke="#f78c00" stroke-width="1.7"/>
<path d="M1515.7 264.4V294.0" stroke="#2fa6e3" stroke-width="2"/>
<rect x="1514.10" y="278.3" width="3.3" height="10.0" rx="1.3" stroke="#2fa6e3" stroke-width="1.7"/>
<path d="M1522.5 270.4V311.0" stroke="#f78c00" stroke-width="2"/>
<rect x="1520.86" y="278.3" width="3.3" height="23.0" rx="1.3" stroke="#f78c00" stroke-width="1.7"/>
<path d="M1529.3 293.0V305.6" stroke="#2fa6e3" stroke-width="2"/>
<path d="M1526.7 302.0H1531.9" stroke="#2fa6e3" stroke-width="2"/>
<path d="M1536.0 298.4V309.0" stroke="#f78c00" stroke-width="2"/>
<rect x="1534.39" y="301.7" width="3.3" height="6.6" rx="1.3" stroke="#f78c00" stroke-width="1.7"/>
<path d="M1542.8 307.0V366.0" stroke="#f78c00" stroke-width="2"/>
<rect x="1541.15" y="310.7" width="3.3" height="42.6" rx="1.3" stroke="#f78c00" stroke-width="1.7"/>
<path d="M1549.6 342.0V375.6" stroke="#f78c00" stroke-width="2"/>
<rect x="1547.91" y="354.3" width="3.3" height="12.0" rx="1.3" stroke="#f78c00" stroke-width="1.7"/>
<path d="M1556.3 330.6V381.0" stroke="#2fa6e3" stroke-width="2"/>
<rect x="1554.68" y="344.3" width="3.3" height="22.0" rx="1.3" stroke="#2fa6e3" stroke-width="1.7"/>
<path d="M1563.1 339.0V423.6" stroke="#f78c00" stroke-width="2"/>
<rect x="1561.44" y="343.1" width="3.3" height="74.2" rx="1.3" stroke="#f78c00" stroke-width="1.7"/>
<path d="M1569.9 395.0V423.6" stroke="#2fa6e3" stroke-width="2"/>
<rect x="1568.20" y="406.3" width="3.3" height="12.0" rx="1.3" stroke="#2fa6e3" stroke-width="1.7"/>
<path d="M1576.6 404.0V415.0" stroke="#f78c00" stroke-width="2"/>
<path d="M1574.0 406.0H1579.2" stroke="#f78c00" stroke-width="2"/>
<path d="M1583.4 359.0V413.6" stroke="#2fa6e3" stroke-width="2"/>
<rect x="1581.73" y="364.3" width="3.3" height="42.0" rx="1.3" stroke="#2fa6e3" stroke-width="1.7"/>
<path d="M1590.1 322.4V372.4" stroke="#2fa6e3" stroke-width="2"/>
<rect x="1588.49" y="325.7" width="3.3" height="37.6" rx="1.3" stroke="#2fa6e3" stroke-width="1.7"/>
<path d="M1596.9 316.4V353.0" stroke="#f78c00" stroke-width="2"/>
<rect x="1595.25" y="325.7" width="3.3" height="5.6" rx="1.3" stroke="#f78c00" stroke-width="1.7"/>
<path d="M1603.7 249.0V331.0" stroke="#2fa6e3" stroke-width="2"/>
<rect x="1602.02" y="251.7" width="3.3" height="78.6" rx="1.3" stroke="#2fa6e3" stroke-width="1.7"/>
<path d="M1610.4 208.4V256.0" stroke="#2fa6e3" stroke-width="2"/>
<rect x="1608.78" y="217.7" width="3.3" height="32.6" rx="1.3" stroke="#2fa6e3" stroke-width="1.7"/>
<path d="M1617.2 157.6V238.0" stroke="#2fa6e3" stroke-width="2"/>
<rect x="1615.54" y="187.7" width="3.3" height="27.6" rx="1.3" stroke="#2fa6e3" stroke-width="1.7"/>
<path d="M1624.0 177.0V199.6" stroke="#2fa6e3" stroke-width="2"/>
<rect x="1622.31" y="185.1" width="3.3" height="2.6" rx="1.3" stroke="#2fa6e3" stroke-width="1.7"/>
<path d="M1630.7 128.0V188.0" stroke="#2fa6e3" stroke-width="2"/>
<rect x="1629.07" y="166.7" width="3.3" height="18.6" rx="1.3" stroke="#2fa6e3" stroke-width="1.7"/>
<path d="M1637.5 118.0V173.0" stroke="#2fa6e3" stroke-width="2"/>
<rect x="1635.83" y="145.7" width="3.3" height="20.6" rx="1.3" stroke="#2fa6e3" stroke-width="1.7"/>
<path d="M1644.2 136.4V215.6" stroke="#f78c00" stroke-width="2"/>
<rect x="1642.60" y="145.7" width="3.3" height="57.2" rx="1.3" stroke="#f78c00" stroke-width="1.7"/>
<path d="M1651.0 153.6V208.4" stroke="#2fa6e3" stroke-width="2"/>
<rect x="1649.36" y="169.7" width="3.3" height="33.2" rx="1.3" stroke="#2fa6e3" stroke-width="1.7"/>
<path d="M1657.8 160.4V232.4" stroke="#f78c00" stroke-width="2"/>
<rect x="1656.12" y="169.7" width="3.3" height="27.6" rx="1.3" stroke="#f78c00" stroke-width="1.7"/>
<path d="M1664.5 181.6V406.6" stroke="#f78c00" stroke-width="2"/>
<rect x="1662.88" y="198.3" width="3.3" height="151.0" rx="1.3" stroke="#f78c00" stroke-width="1.7"/>
<path d="M1671.3 341.0V405.4" stroke="#f78c00" stroke-width="2"/>
<rect x="1669.65" y="350.1" width="3.3" height="37.2" rx="1.3" stroke="#f78c00" stroke-width="1.7"/>
<path d="M1678.1 298.4V405.4" stroke="#2fa6e3" stroke-width="2"/>
<rect x="1676.41" y="312.3" width="3.3" height="75.0" rx="1.3" stroke="#2fa6e3" stroke-width="1.7"/>
</g>
<g>
<rect x="2458.6" y="117.05" width="12.8" height="4.5" fill="#007587"/>
<rect x="2451.9" y="123.06" width="19.5" height="4.5" fill="#007587"/>
<rect x="2417.6" y="129.06" width="12.9" height="4.5" fill="#93204f"/>
<rect x="2430.5" y="129.06" width="40.9" height="4.5" fill="#007587"/>
<rect x="2390.8" y="135.07" width="25.3" height="4.5" fill="#93204f"/>
<rect x="2416.2" y="135.07" width="55.2" height="4.5" fill="#007587"/>
<rect x="2395.1" y="141.08" width="35.4" height="4.5" fill="#93204f"/>
<rect x="2430.5" y="141.08" width="40.9" height="4.5" fill="#007587"/>
<rect x="2374.0" y="147.08" width="28.1" height="4.5" fill="#93204f"/>
<rect x="2402.1" y="147.08" width="69.3" height="4.5" fill="#007587"/>
<rect x="2364.1" y="153.09" width="29.5" height="4.5" fill="#93204f"/>
<rect x="2393.7" y="153.09" width="77.7" height="4.5" fill="#007587"/>
<rect x="2333.2" y="159.10" width="43.6" height="4.5" fill="#93204f"/>
<rect x="2376.8" y="159.10" width="94.6" height="4.5" fill="#007587"/>
<rect x="2313.5" y="165.11" width="67.5" height="4.5" fill="#93204f"/>
<rect x="2381.0" y="165.11" width="90.4" height="4.5" fill="#007587"/>
<rect x="2314.9" y="171.11" width="78.8" height="4.5" fill="#93204f"/>
<rect x="2393.7" y="171.11" width="77.7" height="4.5" fill="#007587"/>
<rect x="2289.6" y="177.12" width="80.2" height="4.5" fill="#93204f"/>
<rect x="2369.8" y="177.12" width="101.7" height="4.5" fill="#007587"/>
<rect x="2260.1" y="183.13" width="109.7" height="4.5" fill="#d4286a"/>
<rect x="2369.8" y="183.13" width="101.7" height="4.5" fill="#00a3b8"/>
<rect x="2198.2" y="189.13" width="153.3" height="4.5" fill="#d4286a"/>
<rect x="2351.5" y="189.13" width="119.9" height="4.5" fill="#00a3b8"/>
<rect x="2179.9" y="195.14" width="147.7" height="4.5" fill="#d4286a"/>
<rect x="2327.6" y="195.14" width="143.8" height="4.5" fill="#00a3b8"/>
<rect x="2237.6" y="201.15" width="120.9" height="4.5" fill="#d4286a"/>
<rect x="2358.5" y="201.15" width="112.9" height="4.5" fill="#00a3b8"/>
<rect x="2271.3" y="207.15" width="116.7" height="4.5" fill="#d4286a"/>
<rect x="2388.0" y="207.15" width="83.4" height="4.5" fill="#00a3b8"/>
<rect x="2271.3" y="213.16" width="111.1" height="4.5" fill="#d4286a"/>
<rect x="2382.4" y="213.16" width="89.0" height="4.5" fill="#00a3b8"/>
<rect x="2208.0" y="219.17" width="137.8" height="4.5" fill="#d4286a"/>
<rect x="2345.8" y="219.17" width="125.6" height="4.5" fill="#00a3b8"/>
<rect x="2161.6" y="225.18" width="154.7" height="4.5" fill="#d4286a"/>
<rect x="2316.3" y="225.18" width="155.1" height="4.5" fill="#00a3b8"/>
<rect x="2120.8" y="231.18" width="146.2" height="4.5" fill="#d4286a"/>
<rect x="2267.1" y="231.18" width="204.3" height="4.5" fill="#00a3b8"/>
<rect x="2064.6" y="237.19" width="180.0" height="4.5" fill="#d4286a"/>
<rect x="2244.6" y="237.19" width="226.8" height="4.5" fill="#00a3b8"/>
<rect x="1967.6" y="243.20" width="243.3" height="4.5" fill="#d4286a"/>
<rect x="2210.8" y="243.20" width="260.6" height="4.5" fill="#00a3b8"/>
<rect x="1902.9" y="249.20" width="286.9" height="4.5" fill="#d4286a"/>
<rect x="2189.8" y="249.20" width="281.7" height="4.5" fill="#00a3b8"/>
<rect x="1833.7" y="255.21" width="367.3" height="4.5" fill="#d4286a"/>
<rect x="2201.0" y="255.21" width="270.4" height="4.5" fill="#00a3b8"/>
<rect x="1770.1" y="261.22" width="402.8" height="4.5" fill="#d4286a"/>
<rect x="2172.9" y="261.22" width="298.5" height="4.5" fill="#00a3b8"/>
<rect x="1733.3" y="267.22" width="432.6" height="4.5" fill="#d4286a"/>
<rect x="2165.8" y="267.22" width="305.6" height="4.5" fill="#00a3b8"/>
<rect x="1842.1" y="273.23" width="371.5" height="4.5" fill="#d4286a"/>
<rect x="2213.7" y="273.23" width="257.7" height="4.5" fill="#00a3b8"/>
<rect x="1802.8" y="279.24" width="324.6" height="4.5" fill="#d4286a"/>
<rect x="2127.3" y="279.24" width="344.1" height="4.5" fill="#00a3b8"/>
<rect x="1888.5" y="285.25" width="260.2" height="4.5" fill="#d4286a"/>
<rect x="2148.7" y="285.25" width="322.7" height="4.5" fill="#00a3b8"/>
<rect x="1895.6" y="291.25" width="312.2" height="4.5" fill="#d4286a"/>
<rect x="2207.8" y="291.25" width="263.7" height="4.5" fill="#00a3b8"/>
<rect x="1773.2" y="297.26" width="427.5" height="4.5" fill="#d4286a"/>
<rect x="2200.7" y="297.26" width="270.7" height="4.5" fill="#00a3b8"/>
<rect x="1771.8" y="303.27" width="389.5" height="4.5" fill="#d4286a"/>
<rect x="2161.3" y="303.27" width="310.1" height="4.5" fill="#00a3b8"/>
<rect x="1857.6" y="309.27" width="334.7" height="4.5" fill="#d4286a"/>
<rect x="2192.3" y="309.27" width="279.1" height="4.5" fill="#00a3b8"/>
<rect x="1982.8" y="315.28" width="260.2" height="4.5" fill="#d4286a"/>
<rect x="2242.9" y="315.28" width="228.5" height="4.5" fill="#00a3b8"/>
<rect x="1965.9" y="321.29" width="209.5" height="4.5" fill="#d4286a"/>
<rect x="2175.4" y="321.29" width="296.0" height="4.5" fill="#00a3b8"/>
<rect x="2005.2" y="327.29" width="188.4" height="4.5" fill="#d4286a"/>
<rect x="2193.7" y="327.29" width="277.7" height="4.5" fill="#00a3b8"/>
<rect x="1988.4" y="333.30" width="199.7" height="4.5" fill="#d4286a"/>
<rect x="2188.1" y="333.30" width="283.3" height="4.5" fill="#00a3b8"/>
<rect x="1979.9" y="339.31" width="254.5" height="4.5" fill="#d4286a"/>
<rect x="2234.5" y="339.31" width="236.9" height="4.5" fill="#00a3b8"/>
<rect x="1947.6" y="345.32" width="306.6" height="4.5" fill="#d4286a"/>
<rect x="2254.2" y="345.32" width="217.2" height="4.5" fill="#00a3b8"/>
<rect x="1926.5" y="351.32" width="320.6" height="4.5" fill="#d4286a"/>
<rect x="2247.1" y="351.32" width="224.3" height="4.5" fill="#00a3b8"/>
<rect x="1894.2" y="357.33" width="298.1" height="4.5" fill="#d4286a"/>
<rect x="2192.3" y="357.33" width="279.1" height="4.5" fill="#00a3b8"/>
<rect x="1954.6" y="363.34" width="258.8" height="4.5" fill="#d4286a"/>
<rect x="2213.4" y="363.34" width="258.0" height="4.5" fill="#00a3b8"/>
<rect x="1919.5" y="369.34" width="281.2" height="4.5" fill="#d4286a"/>
<rect x="2200.7" y="369.34" width="270.7" height="4.5" fill="#00a3b8"/>
<rect x="1788.7" y="375.35" width="324.8" height="4.5" fill="#d4286a"/>
<rect x="2113.5" y="375.35" width="357.9" height="4.5" fill="#00a3b8"/>
<rect x="1877.3" y="381.36" width="298.1" height="4.5" fill="#d4286a"/>
<rect x="2175.4" y="381.36" width="296.0" height="4.5" fill="#00a3b8"/>
<rect x="2054.5" y="387.37" width="233.4" height="4.5" fill="#d4286a"/>
<rect x="2287.9" y="387.37" width="183.5" height="4.5" fill="#00a3b8"/>
<rect x="2062.9" y="393.37" width="229.2" height="4.5" fill="#d4286a"/>
<rect x="2292.1" y="393.37" width="179.3" height="4.5" fill="#00a3b8"/>
<rect x="2060.1" y="399.38" width="222.2" height="4.5" fill="#d4286a"/>
<rect x="2282.3" y="399.38" width="189.1" height="4.5" fill="#00a3b8"/>
<rect x="1929.3" y="405.39" width="291.1" height="4.5" fill="#d4286a"/>
<rect x="2220.4" y="405.39" width="251.0" height="4.5" fill="#00a3b8"/>
<rect x="2009.5" y="411.39" width="230.6" height="4.5" fill="#d4286a"/>
<rect x="2240.1" y="411.39" width="231.3" height="4.5" fill="#00a3b8"/>
<rect x="2015.1" y="417.40" width="234.8" height="4.5" fill="#d4286a"/>
<rect x="2249.9" y="417.40" width="221.5" height="4.5" fill="#00a3b8"/>
<rect x="2091.0" y="423.41" width="185.6" height="4.5" fill="#d4286a"/>
<rect x="2276.7" y="423.41" width="194.7" height="4.5" fill="#00a3b8"/>
<rect x="2109.3" y="429.41" width="184.2" height="4.5" fill="#d4286a"/>
<rect x="2293.5" y="429.41" width="177.9" height="4.5" fill="#00a3b8"/>
<rect x="2072.8" y="435.42" width="210.9" height="4.5" fill="#d4286a"/>
<rect x="2283.7" y="435.42" width="187.7" height="4.5" fill="#00a3b8"/>
<rect x="2062.9" y="441.43" width="233.4" height="4.5" fill="#d4286a"/>
<rect x="2296.3" y="441.43" width="175.1" height="4.5" fill="#00a3b8"/>
<rect x="2126.2" y="447.44" width="205.3" height="4.5" fill="#d4286a"/>
<rect x="2331.5" y="447.44" width="139.9" height="4.5" fill="#00a3b8"/>
<rect x="2216.2" y="453.44" width="147.7" height="4.5" fill="#d4286a"/>
<rect x="2363.8" y="453.44" width="107.6" height="4.5" fill="#00a3b8"/>
<rect x="2287.9" y="459.45" width="90.0" height="4.5" fill="#d4286a"/>
<rect x="2377.9" y="459.45" width="93.5" height="4.5" fill="#00a3b8"/>
<rect x="2265.4" y="465.46" width="109.7" height="4.5" fill="#d4286a"/>
<rect x="2375.1" y="465.46" width="96.3" height="4.5" fill="#00a3b8"/>
<rect x="2143.1" y="471.46" width="157.5" height="4.5" fill="#d4286a"/>
<rect x="2300.6" y="471.46" width="170.8" height="4.5" fill="#00a3b8"/>
<rect x="2062.9" y="477.47" width="157.5" height="4.5" fill="#93204f"/>
<rect x="2220.4" y="477.47" width="251.0" height="4.5" fill="#007587"/>
<rect x="2058.1" y="483.48" width="149.6" height="4.5" fill="#93204f"/>
<rect x="2207.8" y="483.48" width="263.7" height="4.5" fill="#007587"/>
<rect x="2053.1" y="489.48" width="181.4" height="4.5" fill="#93204f"/>
<rect x="2234.5" y="489.48" width="236.9" height="4.5" fill="#007587"/>
<rect x="2099.5" y="495.49" width="196.9" height="4.5" fill="#93204f"/>
<rect x="2296.3" y="495.49" width="175.1" height="4.5" fill="#007587"/>
<rect x="2086.8" y="501.50" width="216.6" height="4.5" fill="#93204f"/>
<rect x="2303.4" y="501.50" width="168.0" height="4.5" fill="#007587"/>
<rect x="2109.3" y="507.50" width="205.3" height="4.5" fill="#93204f"/>
<rect x="2314.6" y="507.50" width="156.8" height="4.5" fill="#007587"/>
<rect x="2174.0" y="513.51" width="163.1" height="4.5" fill="#93204f"/>
<rect x="2337.1" y="513.51" width="134.3" height="4.5" fill="#007587"/>
<rect x="2212.0" y="519.52" width="144.8" height="4.5" fill="#93204f"/>
<rect x="2356.8" y="519.52" width="114.6" height="4.5" fill="#007587"/>
<rect x="2271.3" y="525.53" width="103.8" height="4.5" fill="#93204f"/>
<rect x="2375.1" y="525.53" width="96.3" height="4.5" fill="#007587"/>
<rect x="2334.6" y="531.53" width="59.1" height="4.5" fill="#93204f"/>
<rect x="2393.7" y="531.53" width="77.7" height="4.5" fill="#007587"/>
<rect x="2355.7" y="537.54" width="53.4" height="4.5" fill="#93204f"/>
<rect x="2409.1" y="537.54" width="62.3" height="4.5" fill="#007587"/>
<rect x="2352.9" y="543.55" width="45.0" height="4.5" fill="#93204f"/>
<rect x="2397.9" y="543.55" width="73.5" height="4.5" fill="#007587"/>
<rect x="2368.3" y="549.55" width="36.6" height="4.5" fill="#93204f"/>
<rect x="2404.9" y="549.55" width="66.5" height="4.5" fill="#007587"/>
<rect x="2388.0" y="555.56" width="25.3" height="4.5" fill="#93204f"/>
<rect x="2413.3" y="555.56" width="58.1" height="4.5" fill="#007587"/>
<rect x="2424.6" y="561.57" width="15.5" height="4.5" fill="#93204f"/>
<rect x="2440.1" y="561.57" width="31.3" height="4.5" fill="#007587"/>
<rect x="2431.6" y="567.57" width="11.2" height="4.5" fill="#93204f"/>
<rect x="2442.9" y="567.57" width="28.5" height="4.5" fill="#007587"/>
<rect x="2416.2" y="573.58" width="11.2" height="4.5" fill="#93204f"/>
<rect x="2427.4" y="573.58" width="44.0" height="4.5" fill="#007587"/>
<rect x="2407.7" y="579.59" width="19.7" height="4.5" fill="#93204f"/>
<rect x="2427.4" y="579.59" width="44.0" height="4.5" fill="#007587"/>
<rect x="2399.3" y="585.60" width="29.5" height="4.5" fill="#93204f"/>
<rect x="2428.8" y="585.60" width="42.6" height="4.5" fill="#007587"/>
<rect x="2395.1" y="591.60" width="30.9" height="4.5" fill="#93204f"/>
<rect x="2426.0" y="591.60" width="45.4" height="4.5" fill="#007587"/>
<rect x="2352.9" y="597.61" width="50.6" height="4.5" fill="#93204f"/>
<rect x="2403.5" y="597.61" width="67.9" height="4.5" fill="#007587"/>
<rect x="2327.6" y="603.62" width="71.7" height="4.5" fill="#93204f"/>
<rect x="2399.3" y="603.62" width="72.1" height="4.5" fill="#007587"/>
<rect x="2275.5" y="609.62" width="88.6" height="4.5" fill="#93204f"/>
<rect x="2364.1" y="609.62" width="107.3" height="4.5" fill="#007587"/>
<rect x="2176.8" y="615.63" width="135.0" height="4.5" fill="#93204f"/>
<rect x="2311.8" y="615.63" width="159.6" height="4.5" fill="#007587"/>
<rect x="2122.0" y="621.64" width="184.2" height="4.5" fill="#93204f"/>
<rect x="2306.2" y="621.64" width="165.2" height="4.5" fill="#007587"/>
<rect x="2106.5" y="627.64" width="199.7" height="4.5" fill="#93204f"/>
<rect x="2306.2" y="627.64" width="165.2" height="4.5" fill="#007587"/>
<rect x="2055.9" y="633.65" width="216.6" height="4.5" fill="#93204f"/>
<rect x="2272.4" y="633.65" width="199.0" height="4.5" fill="#007587"/>
<rect x="2072.8" y="639.66" width="220.8" height="4.5" fill="#93204f"/>
<rect x="2293.5" y="639.66" width="177.9" height="4.5" fill="#007587"/>
<rect x="2119.2" y="645.67" width="158.9" height="4.5" fill="#93204f"/>
<rect x="2278.1" y="645.67" width="193.3" height="4.5" fill="#007587"/>
<rect x="2162.2" y="651.67" width="124.3" height="4.5" fill="#93204f"/>
<rect x="2286.5" y="651.67" width="184.9" height="4.5" fill="#007587"/>
<rect x="2165.6" y="657.68" width="118.1" height="4.5" fill="#93204f"/>
<rect x="2283.7" y="657.68" width="187.7" height="4.5" fill="#007587"/>
<rect x="2143.1" y="663.69" width="142.0" height="4.5" fill="#93204f"/>
<rect x="2285.1" y="663.69" width="186.3" height="4.5" fill="#007587"/>
<rect x="2124.8" y="669.69" width="178.6" height="4.5" fill="#93204f"/>
<rect x="2303.4" y="669.69" width="168.0" height="4.5" fill="#007587"/>
<rect x="2169.8" y="675.70" width="157.5" height="4.5" fill="#93204f"/>
<rect x="2327.3" y="675.70" width="144.1" height="4.5" fill="#007587"/>
<rect x="2228.8" y="681.71" width="115.3" height="4.5" fill="#93204f"/>
<rect x="2344.2" y="681.71" width="127.2" height="4.5" fill="#007587"/>
<rect x="2290.7" y="687.71" width="78.8" height="4.5" fill="#93204f"/>
<rect x="2369.5" y="687.71" width="101.9" height="4.5" fill="#007587"/>
<rect x="2333.2" y="693.72" width="68.9" height="4.5" fill="#93204f"/>
<rect x="2402.1" y="693.72" width="69.3" height="4.5" fill="#007587"/>
<rect x="2364.1" y="699.73" width="61.9" height="4.5" fill="#93204f"/>
<rect x="2426.0" y="699.73" width="45.4" height="4.5" fill="#007587"/>
<rect x="2374.0" y="705.74" width="54.8" height="4.5" fill="#93204f"/>
<rect x="2428.8" y="705.74" width="42.6" height="4.5" fill="#007587"/>
<rect x="2379.6" y="711.74" width="40.8" height="4.5" fill="#93204f"/>
<rect x="2420.4" y="711.74" width="51.0" height="4.5" fill="#007587"/>
<rect x="2351.5" y="717.75" width="43.6" height="4.5" fill="#93204f"/>
<rect x="2395.1" y="717.75" width="76.3" height="4.5" fill="#007587"/>
<rect x="2337.4" y="723.76" width="47.8" height="4.5" fill="#93204f"/>
<rect x="2385.2" y="723.76" width="86.2" height="4.5" fill="#007587"/>
<rect x="2329.0" y="729.76" width="67.5" height="4.5" fill="#93204f"/>
<rect x="2396.5" y="729.76" width="74.9" height="4.5" fill="#007587"/>
<rect x="2348.7" y="735.77" width="64.7" height="4.5" fill="#93204f"/>
<rect x="2413.3" y="735.77" width="58.1" height="4.5" fill="#007587"/>
<rect x="2343.0" y="741.78" width="64.7" height="4.5" fill="#93204f"/>
<rect x="2407.7" y="741.78" width="63.7" height="4.5" fill="#007587"/>
<rect x="2340.2" y="747.78" width="64.7" height="4.5" fill="#93204f"/>
<rect x="2404.9" y="747.78" width="66.5" height="4.5" fill="#007587"/>
<rect x="2331.8" y="753.79" width="66.1" height="4.5" fill="#93204f"/>
<rect x="2397.9" y="753.79" width="73.5" height="4.5" fill="#007587"/>
<rect x="2310.4" y="759.80" width="72.0" height="4.5" fill="#93204f"/>
<rect x="2382.4" y="759.80" width="89.0" height="4.5" fill="#007587"/>
<rect x="2286.5" y="765.81" width="80.4" height="4.5" fill="#93204f"/>
<rect x="2366.9" y="765.81" width="104.5" height="4.5" fill="#007587"/>
<rect x="2183.8" y="771.81" width="132.2" height="4.5" fill="#93204f"/>
<rect x="2316.0" y="771.81" width="155.4" height="4.5" fill="#007587"/>
<rect x="2122.0" y="777.82" width="151.9" height="4.5" fill="#93204f"/>
<rect x="2273.8" y="777.82" width="197.6" height="4.5" fill="#007587"/>
<rect x="2112.1" y="783.83" width="150.5" height="4.5" fill="#93204f"/>
<rect x="2262.6" y="783.83" width="208.8" height="4.5" fill="#007587"/>
<rect x="2082.6" y="789.83" width="163.1" height="4.5" fill="#93204f"/>
<rect x="2245.7" y="789.83" width="225.7" height="4.5" fill="#007587"/>
<rect x="2103.7" y="795.84" width="143.4" height="4.5" fill="#93204f"/>
<rect x="2247.1" y="795.84" width="224.3" height="4.5" fill="#007587"/>
<rect x="2157.1" y="801.85" width="154.7" height="4.5" fill="#93204f"/>
<rect x="2311.8" y="801.85" width="159.6" height="4.5" fill="#007587"/>
<rect x="2167.0" y="807.85" width="161.7" height="4.5" fill="#93204f"/>
<rect x="2328.7" y="807.85" width="142.7" height="4.5" fill="#007587"/>
<rect x="2155.7" y="813.86" width="175.8" height="4.5" fill="#93204f"/>
<rect x="2331.5" y="813.86" width="139.9" height="4.5" fill="#007587"/>
<rect x="2169.8" y="819.87" width="173.2" height="4.5" fill="#93204f"/>
<rect x="2343.0" y="819.87" width="128.4" height="4.5" fill="#007587"/>
<rect x="2053.1" y="825.88" width="205.3" height="4.5" fill="#93204f"/>
<rect x="2258.4" y="825.88" width="213.0" height="4.5" fill="#007587"/>
<rect x="1965.9" y="831.88" width="226.4" height="4.5" fill="#93204f"/>
<rect x="2192.3" y="831.88" width="279.1" height="4.5" fill="#007587"/>
<rect x="1898.4" y="837.89" width="288.3" height="4.5" fill="#93204f"/>
<rect x="2186.7" y="837.89" width="284.7" height="4.5" fill="#007587"/>
<rect x="1847.8" y="843.90" width="333.3" height="4.5" fill="#93204f"/>
<rect x="2181.0" y="843.90" width="290.4" height="4.5" fill="#007587"/>
<rect x="1829.5" y="849.90" width="362.8" height="4.5" fill="#93204f"/>
<rect x="2192.3" y="849.90" width="279.1" height="4.5" fill="#007587"/>
<rect x="1863.2" y="855.91" width="330.5" height="4.5" fill="#93204f"/>
<rect x="2193.7" y="855.91" width="277.7" height="4.5" fill="#007587"/>
<rect x="1894.2" y="861.92" width="282.7" height="4.5" fill="#93204f"/>
<rect x="2176.8" y="861.92" width="294.6" height="4.5" fill="#007587"/>
<rect x="1929.3" y="867.92" width="243.3" height="4.5" fill="#93204f"/>
<rect x="2172.6" y="867.92" width="298.8" height="4.5" fill="#007587"/>
<rect x="1950.4" y="873.93" width="233.4" height="4.5" fill="#93204f"/>
<rect x="2183.8" y="873.93" width="287.6" height="4.5" fill="#007587"/>
<rect x="2032.0" y="879.94" width="199.7" height="4.5" fill="#93204f"/>
<rect x="2231.7" y="879.94" width="239.7" height="4.5" fill="#007587"/>
<rect x="2116.3" y="885.95" width="173.0" height="4.5" fill="#93204f"/>
<rect x="2289.3" y="885.95" width="182.1" height="4.5" fill="#007587"/>
<rect x="2190.9" y="891.95" width="152.2" height="4.5" fill="#93204f"/>
<rect x="2343.0" y="891.95" width="128.4" height="4.5" fill="#007587"/>
<rect x="2283.7" y="897.96" width="105.8" height="4.5" fill="#93204f"/>
<rect x="2389.4" y="897.96" width="82.0" height="4.5" fill="#007587"/>
<rect x="2300.6" y="903.97" width="90.3" height="4.5" fill="#93204f"/>
<rect x="2390.8" y="903.97" width="80.6" height="4.5" fill="#007587"/>
<rect x="2304.8" y="909.97" width="86.1" height="4.5" fill="#93204f"/>
<rect x="2390.8" y="909.97" width="80.6" height="4.5" fill="#007587"/>
<rect x="2293.5" y="915.98" width="108.6" height="4.5" fill="#93204f"/>
<rect x="2402.1" y="915.98" width="69.3" height="4.5" fill="#007587"/>
<rect x="2283.7" y="921.99" width="107.2" height="4.5" fill="#93204f"/>
<rect x="2390.8" y="921.99" width="80.6" height="4.5" fill="#007587"/>
<rect x="2286.5" y="927.99" width="105.8" height="4.5" fill="#93204f"/>
<rect x="2392.2" y="927.99" width="79.2" height="4.5" fill="#007587"/>
<rect x="2296.3" y="934.00" width="100.1" height="4.5" fill="#93204f"/>
<rect x="2396.5" y="934.00" width="74.9" height="4.5" fill="#007587"/>
<rect x="2330.4" y="940.01" width="81.6" height="4.5" fill="#93204f"/>
<rect x="2411.9" y="940.01" width="59.5" height="4.5" fill="#007587"/>
<rect x="2359.9" y="946.02" width="61.9" height="4.5" fill="#93204f"/>
<rect x="2421.8" y="946.02" width="49.6" height="4.5" fill="#007587"/>
<rect x="2375.4" y="952.02" width="49.2" height="4.5" fill="#93204f"/>
<rect x="2424.6" y="952.02" width="46.8" height="4.5" fill="#007587"/>
<rect x="2359.9" y="958.03" width="63.3" height="4.5" fill="#93204f"/>
<rect x="2423.2" y="958.03" width="48.2" height="4.5" fill="#007587"/>
<rect x="2359.9" y="964.04" width="54.8" height="4.5" fill="#93204f"/>
<rect x="2414.8" y="964.04" width="56.7" height="4.5" fill="#007587"/>
<rect x="2371.2" y="970.04" width="47.8" height="4.5" fill="#93204f"/>
<rect x="2419.0" y="970.04" width="52.4" height="4.5" fill="#007587"/>
<rect x="2371.2" y="976.05" width="54.8" height="4.5" fill="#93204f"/>
<rect x="2426.0" y="976.05" width="45.4" height="4.5" fill="#007587"/>
<rect x="2378.2" y="982.06" width="53.4" height="4.5" fill="#93204f"/>
<rect x="2431.6" y="982.06" width="39.8" height="4.5" fill="#007587"/>
<rect x="2406.3" y="988.06" width="30.9" height="4.5" fill="#93204f"/>
<rect x="2437.2" y="988.06" width="34.2" height="4.5" fill="#007587"/>
<rect x="2428.8" y="994.07" width="25.3" height="4.5" fill="#93204f"/>
<rect x="2454.1" y="994.07" width="17.3" height="4.5" fill="#007587"/>
<rect x="2433.0" y="1000.08" width="22.5" height="4.5" fill="#93204f"/>
<rect x="2455.5" y="1000.08" width="15.9" height="4.5" fill="#007587"/>
<rect x="2444.3" y="1006.09" width="22.5" height="4.5" fill="#93204f"/>
<rect x="2466.8" y="1006.09" width="4.6" height="4.5" fill="#007587"/>
<rect x="2454.1" y="1012.09" width="17.3" height="4.5" fill="#93204f"/>
</g>
<line x1="1857" y1="311.9" x2="2471" y2="311.9" stroke="#ffffff" stroke-opacity="0.12" stroke-width="1.1" stroke-dasharray="2 2.3" stroke-dashoffset="0.6"/>
<clipPath id="bandclip"><rect x="0" y="821.8" width="2476" height="146.6"/></clipPath>
<rect x="0" y="821.8" width="2476" height="146.6" fill="#00392a"/>
<g clip-path="url(#bandclip)">
<g fill="#00392a">
<path d="M136.1 760.0V884.0" stroke="#a8861b" stroke-width="2"/>
<rect x="134.45" y="773.3" width="3.3" height="78.6" rx="1.3" stroke="#a8861b" stroke-width="1.7"/>
<path d="M142.9 801.0V877.0" stroke="#00a6ba" stroke-width="2"/>
<rect x="141.21" y="842.3" width="3.3" height="8.6" rx="1.3" stroke="#00a6ba" stroke-width="1.7"/>
<path d="M149.6 833.6V953.0" stroke="#a8861b" stroke-width="2"/>
<rect x="147.97" y="842.7" width="3.3" height="3.6" rx="1.3" stroke="#a8861b" stroke-width="1.7"/>
<path d="M156.4 808.0V855.6" stroke="#00a6ba" stroke-width="2"/>
<rect x="154.74" y="817.1" width="3.3" height="30.6" rx="1.3" stroke="#00a6ba" stroke-width="1.7"/>
<path d="M163.1 658.6V834.4" stroke="#00a6ba" stroke-width="2"/>
<rect x="161.50" y="675.1" width="3.3" height="142.2" rx="1.3" stroke="#00a6ba" stroke-width="1.7"/>
<path d="M169.9 671.4V833.0" stroke="#a8861b" stroke-width="2"/>
<rect x="168.26" y="675.1" width="3.3" height="140.6" rx="1.3" stroke="#a8861b" stroke-width="1.7"/>
<path d="M176.7 767.4V896.4" stroke="#00a6ba" stroke-width="2"/>
<rect x="175.02" y="796.3" width="3.3" height="19.4" rx="1.3" stroke="#00a6ba" stroke-width="1.7"/>
<path d="M197.0 726.6V840.0" stroke="#a8861b" stroke-width="2"/>
<rect x="195.31" y="749.7" width="3.3" height="54.0" rx="1.3" stroke="#a8861b" stroke-width="1.7"/>
<path d="M203.7 802.0V831.6" stroke="#a8861b" stroke-width="2"/>
<rect x="202.08" y="804.7" width="3.3" height="9.0" rx="1.3" stroke="#a8861b" stroke-width="1.7"/>
<path d="M210.5 809.4V922.0" stroke="#a8861b" stroke-width="2"/>
<rect x="208.84" y="814.3" width="3.3" height="95.0" rx="1.3" stroke="#a8861b" stroke-width="1.7"/>
<path d="M217.3 851.6V967.0" stroke="#a8861b" stroke-width="2"/>
<rect x="215.60" y="910.3" width="3.3" height="37.0" rx="1.3" stroke="#a8861b" stroke-width="1.7"/>
<path d="M224.0 860.4V981.0" stroke="#00a6ba" stroke-width="2"/>
<rect x="222.37" y="872.3" width="3.3" height="74.0" rx="1.3" stroke="#00a6ba" stroke-width="1.7"/>
<path d="M230.8 844.6V910.6" stroke="#00a6ba" stroke-width="2"/>
<rect x="229.13" y="859.3" width="3.3" height="11.0" rx="1.3" stroke="#00a6ba" stroke-width="1.7"/>
<path d="M237.5 847.4V923.0" stroke="#a8861b" stroke-width="2"/>
<rect x="235.89" y="858.1" width="3.3" height="44.2" rx="1.3" stroke="#a8861b" stroke-width="1.7"/>
<path d="M244.3 829.0V908.0" stroke="#00a6ba" stroke-width="2"/>
<rect x="242.65" y="853.7" width="3.3" height="49.2" rx="1.3" stroke="#00a6ba" stroke-width="1.7"/>
<path d="M251.1 840.4V858.4" stroke="#00a6ba" stroke-width="2"/>
<rect x="249.42" y="846.7" width="3.3" height="6.6" rx="1.3" stroke="#00a6ba" stroke-width="1.7"/>
<path d="M257.8 833.6V886.6" stroke="#a8861b" stroke-width="2"/>
<rect x="256.18" y="846.7" width="3.3" height="30.6" rx="1.3" stroke="#a8861b" stroke-width="1.7"/>
<path d="M264.6 839.0V878.0" stroke="#00a6ba" stroke-width="2"/>
<rect x="262.94" y="852.3" width="3.3" height="25.0" rx="1.3" stroke="#00a6ba" stroke-width="1.7"/>
<path d="M271.4 853.0V902.0" stroke="#a8861b" stroke-width="2"/>
<rect x="269.71" y="853.7" width="3.3" height="20.6" rx="1.3" stroke="#a8861b" stroke-width="1.7"/>
<path d="M278.1 799.4V876.4" stroke="#00a6ba" stroke-width="2"/>
<rect x="276.47" y="803.1" width="3.3" height="72.6" rx="1.3" stroke="#00a6ba" stroke-width="1.7"/>
<path d="M284.9 792.4V858.4" stroke="#a8861b" stroke-width="2"/>
<rect x="283.23" y="803.1" width="3.3" height="45.8" rx="1.3" stroke="#a8861b" stroke-width="1.7"/>
<path d="M291.6 839.0V867.0" stroke="#a8861b" stroke-width="2"/>
<rect x="290.00" y="849.1" width="3.3" height="3.2" rx="1.3" stroke="#a8861b" stroke-width="1.7"/>
<path d="M298.4 843.4V857.0" stroke="#a8861b" stroke-width="2"/>
<rect x="296.76" y="852.7" width="3.3" height="3.6" rx="1.3" stroke="#a8861b" stroke-width="1.7"/>
<path d="M305.2 815.0V857.0" stroke="#00a6ba" stroke-width="2"/>
<rect x="303.52" y="817.1" width="3.3" height="39.2" rx="1.3" stroke="#00a6ba" stroke-width="1.7"/>
<path d="M311.9 770.0V824.4" stroke="#00a6ba" stroke-width="2"/>
<rect x="310.29" y="791.7" width="3.3" height="25.0" rx="1.3" stroke="#00a6ba" stroke-width="1.7"/>
<path d="M339.0 791.0V860.0" stroke="#a8861b" stroke-width="2"/>
<rect x="337.34" y="797.7" width="3.3" height="48.6" rx="1.3" stroke="#a8861b" stroke-width="1.7"/>
<path d="M345.8 843.4V894.0" stroke="#a8861b" stroke-width="2"/>
<rect x="344.10" y="846.7" width="3.3" height="30.6" rx="1.3" stroke="#a8861b" stroke-width="1.7"/>
<path d="M352.5 861.6V895.0" stroke="#a8861b" stroke-width="2"/>
<rect x="350.86" y="878.1" width="3.3" height="3.2" rx="1.3" stroke="#a8861b" stroke-width="1.7"/>
<path d="M359.3 853.0V899.4" stroke="#00a6ba" stroke-width="2"/>
<rect x="357.63" y="878.1" width="3.3" height="3.2" rx="1.3" stroke="#00a6ba" stroke-width="1.7"/>
<path d="M366.0 826.4V879.0" stroke="#00a6ba" stroke-width="2"/>
<rect x="364.39" y="832.3" width="3.3" height="46.0" rx="1.3" stroke="#00a6ba" stroke-width="1.7"/>
<path d="M372.8 773.0V901.0" stroke="#a8861b" stroke-width="2"/>
<rect x="371.15" y="832.7" width="3.3" height="46.2" rx="1.3" stroke="#a8861b" stroke-width="1.7"/>
<path d="M379.6 854.6V900.4" stroke="#00a6ba" stroke-width="2"/>
<rect x="377.92" y="867.7" width="3.3" height="11.2" rx="1.3" stroke="#00a6ba" stroke-width="1.7"/>
<path d="M386.3 840.4V892.0" stroke="#00a6ba" stroke-width="2"/>
<rect x="384.68" y="855.3" width="3.3" height="12.0" rx="1.3" stroke="#00a6ba" stroke-width="1.7"/>
<path d="M393.1 849.0V881.0" stroke="#a8861b" stroke-width="2"/>
<rect x="391.44" y="855.7" width="3.3" height="6.0" rx="1.3" stroke="#a8861b" stroke-width="1.7"/>
<path d="M399.9 857.4V972.5" stroke="#a8861b" stroke-width="2"/>
<rect x="398.20" y="861.1" width="3.3" height="89.2" rx="1.3" stroke="#a8861b" stroke-width="1.7"/>
<path d="M406.6 901.0V1017.5" stroke="#00a6ba" stroke-width="2"/>
<rect x="404.97" y="938.3" width="3.3" height="12.0" rx="1.3" stroke="#00a6ba" stroke-width="1.7"/>
<path d="M413.4 906.6V988.0" stroke="#a8861b" stroke-width="2"/>
<rect x="411.73" y="937.1" width="3.3" height="50.2" rx="1.3" stroke="#a8861b" stroke-width="1.7"/>
<path d="M420.1 860.4V1016.2" stroke="#00a6ba" stroke-width="2"/>
<rect x="418.49" y="877.7" width="3.3" height="109.4" rx="1.3" stroke="#00a6ba" stroke-width="1.7"/>
<path d="M426.9 874.0V948.6" stroke="#a8861b" stroke-width="2"/>
<rect x="425.26" y="878.1" width="3.3" height="51.2" rx="1.3" stroke="#a8861b" stroke-width="1.7"/>
<path d="M433.7 847.6V940.0" stroke="#00a6ba" stroke-width="2"/>
<rect x="432.02" y="863.7" width="3.3" height="65.6" rx="1.3" stroke="#00a6ba" stroke-width="1.7"/>
<path d="M440.4 819.0V872.6" stroke="#00a6ba" stroke-width="2"/>
<rect x="438.78" y="831.3" width="3.3" height="31.4" rx="1.3" stroke="#00a6ba" stroke-width="1.7"/>
<path d="M447.2 816.4V868.4" stroke="#a8861b" stroke-width="2"/>
<rect x="445.55" y="831.3" width="3.3" height="25.6" rx="1.3" stroke="#a8861b" stroke-width="1.7"/>
<path d="M454.0 820.6V857.0" stroke="#00a6ba" stroke-width="2"/>
<rect x="452.31" y="842.3" width="3.3" height="14.0" rx="1.3" stroke="#00a6ba" stroke-width="1.7"/>
<path d="M460.7 809.4V858.0" stroke="#a8861b" stroke-width="2"/>
<rect x="459.07" y="842.3" width="3.3" height="15.0" rx="1.3" stroke="#a8861b" stroke-width="1.7"/>
<path d="M467.5 826.6V868.0" stroke="#00a6ba" stroke-width="2"/>
<rect x="465.83" y="852.3" width="3.3" height="6.0" rx="1.3" stroke="#00a6ba" stroke-width="1.7"/>
<path d="M474.2 826.6V857.0" stroke="#00a6ba" stroke-width="2"/>
<rect x="472.60" y="836.7" width="3.3" height="14.6" rx="1.3" stroke="#00a6ba" stroke-width="1.7"/>
<path d="M481.0 833.6V847.0" stroke="#a8861b" stroke-width="2"/>
<rect x="479.36" y="837.3" width="3.3" height="7.6" rx="1.3" stroke="#a8861b" stroke-width="1.7"/>
<path d="M487.8 825.0V845.6" stroke="#00a6ba" stroke-width="2"/>
<rect x="486.12" y="834.3" width="3.3" height="10.6" rx="1.3" stroke="#00a6ba" stroke-width="1.7"/>
<path d="M494.5 829.4V852.6" stroke="#00a6ba" stroke-width="2"/>
<rect x="492.89" y="832.7" width="3.3" height="1.0" rx="1.3" stroke="#00a6ba" stroke-width="1.7"/>
<path d="M501.3 775.0V832.6" stroke="#00a6ba" stroke-width="2"/>
<rect x="499.65" y="792.3" width="3.3" height="39.6" rx="1.3" stroke="#00a6ba" stroke-width="1.7"/>
</g>
<g>
<rect x="2169.8" y="819.87" width="173.2" height="4.5" fill="#7a4b58"/>
<rect x="2343.0" y="819.87" width="128.4" height="4.5" fill="#00877a"/>
<rect x="2053.1" y="825.88" width="205.3" height="4.5" fill="#7a4b58"/>
<rect x="2258.4" y="825.88" width="213.0" height="4.5" fill="#00877a"/>
<rect x="1965.9" y="831.88" width="226.4" height="4.5" fill="#7a4b58"/>
<rect x="2192.3" y="831.88" width="279.1" height="4.5" fill="#00877a"/>
<rect x="1898.4" y="837.89" width="288.3" height="4.5" fill="#7a4b58"/>
<rect x="2186.7" y="837.89" width="284.7" height="4.5" fill="#00877a"/>
<rect x="1847.8" y="843.90" width="333.3" height="4.5" fill="#7a4b58"/>
<rect x="2181.0" y="843.90" width="290.4" height="4.5" fill="#00877a"/>
<rect x="1829.5" y="849.90" width="362.8" height="4.5" fill="#7a4b58"/>
<rect x="2192.3" y="849.90" width="279.1" height="4.5" fill="#00877a"/>
<rect x="1863.2" y="855.91" width="330.5" height="4.5" fill="#7a4b58"/>
<rect x="2193.7" y="855.91" width="277.7" height="4.5" fill="#00877a"/>
<rect x="1894.2" y="861.92" width="282.7" height="4.5" fill="#7a4b58"/>
<rect x="2176.8" y="861.92" width="294.6" height="4.5" fill="#00877a"/>
<rect x="1929.3" y="867.92" width="243.3" height="4.5" fill="#7a4b58"/>
<rect x="2172.6" y="867.92" width="298.8" height="4.5" fill="#00877a"/>
<rect x="1950.4" y="873.93" width="233.4" height="4.5" fill="#7a4b58"/>
<rect x="2183.8" y="873.93" width="287.6" height="4.5" fill="#00877a"/>
<rect x="2032.0" y="879.94" width="199.7" height="4.5" fill="#7a4b58"/>
<rect x="2231.7" y="879.94" width="239.7" height="4.5" fill="#00877a"/>
<rect x="2116.3" y="885.95" width="173.0" height="4.5" fill="#7a4b58"/>
<rect x="2289.3" y="885.95" width="182.1" height="4.5" fill="#00877a"/>
<rect x="2190.9" y="891.95" width="152.2" height="4.5" fill="#7a4b58"/>
<rect x="2343.0" y="891.95" width="128.4" height="4.5" fill="#00877a"/>
<rect x="2283.7" y="897.96" width="105.8" height="4.5" fill="#7a4b58"/>
<rect x="2389.4" y="897.96" width="82.0" height="4.5" fill="#00877a"/>
<rect x="2300.6" y="903.97" width="90.3" height="4.5" fill="#7a4b58"/>
<rect x="2390.8" y="903.97" width="80.6" height="4.5" fill="#00877a"/>
<rect x="2304.8" y="909.97" width="86.1" height="4.5" fill="#7a4b58"/>
<rect x="2390.8" y="909.97" width="80.6" height="4.5" fill="#00877a"/>
<rect x="2293.5" y="915.98" width="108.6" height="4.5" fill="#7a4b58"/>
<rect x="2402.1" y="915.98" width="69.3" height="4.5" fill="#00877a"/>
<rect x="2283.7" y="921.99" width="107.2" height="4.5" fill="#7a4b58"/>
<rect x="2390.8" y="921.99" width="80.6" height="4.5" fill="#00877a"/>
<rect x="2286.5" y="927.99" width="105.8" height="4.5" fill="#7a4b58"/>
<rect x="2392.2" y="927.99" width="79.2" height="4.5" fill="#00877a"/>
<rect x="2296.3" y="934.00" width="100.1" height="4.5" fill="#7a4b58"/>
<rect x="2396.5" y="934.00" width="74.9" height="4.5" fill="#00877a"/>
<rect x="2330.4" y="940.01" width="81.6" height="4.5" fill="#7a4b58"/>
<rect x="2411.9" y="940.01" width="59.5" height="4.5" fill="#00877a"/>
<rect x="2359.9" y="946.02" width="61.9" height="4.5" fill="#7a4b58"/>
<rect x="2421.8" y="946.02" width="49.6" height="4.5" fill="#00877a"/>
<rect x="2375.4" y="952.02" width="49.2" height="4.5" fill="#7a4b58"/>
<rect x="2424.6" y="952.02" width="46.8" height="4.5" fill="#00877a"/>
<rect x="2359.9" y="958.03" width="63.3" height="4.5" fill="#7a4b58"/>
<rect x="2423.2" y="958.03" width="48.2" height="4.5" fill="#00877a"/>
<rect x="2359.9" y="964.04" width="54.8" height="4.5" fill="#7a4b58"/>
<rect x="2414.8" y="964.04" width="56.7" height="4.5" fill="#00877a"/>
</g>
</g>
<line x1="46.2" y1="262.6" x2="2475.5" y2="262.6" stroke="#dedbd4" stroke-width="4.3" stroke-dasharray="14.3 13.947" stroke-dashoffset="6.847"/>
<line x1="46.2" y1="393.7" x2="2475.5" y2="393.7" stroke="#0a84ff" stroke-width="4.5" stroke-dasharray="14.3 13.947" stroke-dashoffset="6.847"/>
<line x1="46.2" y1="484.8" x2="2475.5" y2="484.8" stroke="#ff8c00" stroke-width="4.5" stroke-dasharray="14.3 13.947" stroke-dashoffset="6.847"/>
<line x1="46.2" y1="655.9" x2="2475.5" y2="655.9" stroke="#ff2f6d" stroke-width="6.2" stroke-dasharray="14.3 13.947" stroke-dashoffset="6.847"/>
<text class="b" x="68.1" y="246.5" font-size="70.6" fill="#dedbd4" textLength="164.3" lengthAdjust="spacingAndGlyphs">Bulls</text>
<text class="b" x="247.9" y="246.5" font-size="70.6" fill="#dedbd4" textLength="263.6" lengthAdjust="spacingAndGlyphs">Reclaim</text>
<text class="b" x="526.3" y="246.5" font-size="70.6" fill="#dedbd4" textLength="247.3" lengthAdjust="spacingAndGlyphs">Control</text>
<text class="b" x="784.6" y="251.8" font-size="70.6" fill="#dedbd4" textLength="33.2" lengthAdjust="spacingAndGlyphs">&gt;</text>
<text class="b" x="835.6" y="248.2" font-size="77" fill="#dedbd4" textLength="39.7" lengthAdjust="spacingAndGlyphs">$</text>
<path d="M879.3 214.8 L890.0 207.2 L900.3 207.2 L900.3 238.6 L908.5 238.6 L908.5 246.5 L880.6 246.5 L880.6 238.6 L890.0 238.6 L890.0 218.1 L879.3 222.8Z" fill="#dedbd4"/>
<path d="M912.6 214.8 L923.4 207.2 L933.7 207.2 L933.7 238.6 L942.0 238.6 L942.0 246.5 L913.9 246.5 L913.9 238.6 L923.4 238.6 L923.4 218.1 L912.6 222.8Z" fill="#dedbd4"/>
<text class="b" x="944.6" y="246.5" font-size="70.6" fill="#dedbd4" textLength="39.5" lengthAdjust="spacingAndGlyphs">8</text>
<text class="b" x="983.7" y="246.5" font-size="70.6" fill="#dedbd4" textLength="38.2" lengthAdjust="spacingAndGlyphs">k</text>
<text class="b" x="63.5" y="377.0" font-size="70.6" fill="#0a84ff" textLength="207.6" lengthAdjust="spacingAndGlyphs">Range</text>
<text class="b" x="287.7" y="377.0" font-size="70.6" fill="#0a84ff" textLength="167.4" lengthAdjust="spacingAndGlyphs">Lows</text>
<text class="b" x="473.2" y="378.7" font-size="77" fill="#0a84ff" textLength="39.7" lengthAdjust="spacingAndGlyphs">$</text>
<path d="M517.0 345.3 L527.6 337.7 L537.9 337.7 L537.9 369.1 L546.0 369.1 L546.0 377.0 L518.3 377.0 L518.3 369.1 L527.6 369.1 L527.6 348.6 L517.0 353.3Z" fill="#0a84ff"/>
<path d="M550.1 345.3 L560.8 337.7 L571.1 337.7 L571.1 369.1 L579.3 369.1 L579.3 377.0 L551.4 377.0 L551.4 369.1 L560.8 369.1 L560.8 348.6 L550.1 353.3Z" fill="#0a84ff"/>
<ellipse cx="601.9" cy="357.4" rx="13.3" ry="16.7" fill="none" stroke="#0a84ff" stroke-width="9.2"/>
<text class="b" x="621.4" y="377.0" font-size="70.6" fill="#0a84ff" textLength="38.6" lengthAdjust="spacingAndGlyphs">k</text>
<text class="b" x="57.7" y="472.9" font-size="70.6" fill="#ff8c00" textLength="252.8" lengthAdjust="spacingAndGlyphs">Caution</text>
<text class="b" x="327.6" y="474.6" font-size="77" fill="#ff8c00" textLength="40.2" lengthAdjust="spacingAndGlyphs">$</text>
<path d="M371.4 441.2 L382.1 433.6 L392.5 433.6 L392.5 465.0 L400.7 465.0 L400.7 472.9 L372.7 472.9 L372.7 465.0 L382.1 465.0 L382.1 444.5 L371.4 449.2Z" fill="#ff8c00"/>
<ellipse cx="423.2" cy="453.2" rx="13.3" ry="16.7" fill="none" stroke="#ff8c00" stroke-width="9.2"/>
<text class="b" x="443.8" y="482.5" font-size="70.6" fill="#ff8c00" textLength="37.8" lengthAdjust="spacingAndGlyphs">5</text>
<text class="b" x="480.5" y="472.9" font-size="70.6" fill="#ff8c00" textLength="38.7" lengthAdjust="spacingAndGlyphs">k</text>
<text class="b" x="971.6" y="642.0" font-size="70.6" fill="#ff2f6d" textLength="164.6" lengthAdjust="spacingAndGlyphs">Bulls</text>
<text class="b" x="1152.0" y="642.0" font-size="70.6" fill="#ff2f6d" textLength="135.8" lengthAdjust="spacingAndGlyphs">Last</text>
<text class="b" x="1305.9" y="642.0" font-size="70.6" fill="#ff2f6d" textLength="192.1" lengthAdjust="spacingAndGlyphs">Stand</text>
<text class="b" x="1513.2" y="643.7" font-size="77" fill="#ff2f6d" textLength="39.7" lengthAdjust="spacingAndGlyphs">$</text>
<text class="b" x="1554.5" y="651.2" font-size="69.2" fill="#ff2f6d" textLength="40.9" lengthAdjust="spacingAndGlyphs">9</text>
<text class="b" x="1594.6" y="651.6" font-size="70.6" fill="#ff2f6d" textLength="37.3" lengthAdjust="spacingAndGlyphs">5</text>
<text class="b" x="1631.4" y="642.0" font-size="70.6" fill="#ff2f6d" textLength="38.1" lengthAdjust="spacingAndGlyphs">k</text>
<text class="b" x="623.9" y="876.6" font-size="70.6" fill="#00b26e" textLength="173.5" lengthAdjust="spacingAndGlyphs">Deep</text>
<text class="b" x="810.2" y="876.6" font-size="70.6" fill="#00b26e" textLength="185.7" lengthAdjust="spacingAndGlyphs">Value</text>
<text class="b" x="1010.0" y="868.2" font-size="58" fill="#00b26e" textLength="19.7" lengthAdjust="spacingAndGlyphs">(</text>
<text class="b" x="1032.0" y="876.6" font-size="70.6" fill="#00b26e" textLength="113.1" lengthAdjust="spacingAndGlyphs">But</text>
<text class="b" x="1158.5" y="876.6" font-size="70.6" fill="#00b26e" textLength="142.2" lengthAdjust="spacingAndGlyphs">Also</text>
<text class="b" x="1316.5" y="876.6" font-size="70.6" fill="#00b26e" textLength="289.6" lengthAdjust="spacingAndGlyphs">Probably</text>
<text class="b" x="1617.6" y="876.6" font-size="70.6" fill="#00b26e" textLength="48.6" lengthAdjust="spacingAndGlyphs">A</text>
<text class="b" x="1678.7" y="876.6" font-size="70.6" fill="#00b26e" textLength="151.5" lengthAdjust="spacingAndGlyphs">Bear</text>
<text class="b" x="1831.4" y="868.2" font-size="58" fill="#00b26e" textLength="19.9" lengthAdjust="spacingAndGlyphs">)</text>
<text class="b" x="1139.6" y="961.3" font-size="70.6" fill="#00b26e" textLength="33.7" lengthAdjust="spacingAndGlyphs">&lt;</text>
<text class="b" x="1176.5" y="957.7" font-size="77" fill="#00b26e" textLength="39.7" lengthAdjust="spacingAndGlyphs">$</text>
<text class="b" x="1218.6" y="956.0" font-size="70.6" fill="#00b26e" textLength="39.7" lengthAdjust="spacingAndGlyphs">8</text>
<text class="b" x="1258.8" y="965.6" font-size="70.6" fill="#00b26e" textLength="37.3" lengthAdjust="spacingAndGlyphs">5</text>
<text class="b" x="1295.1" y="956.0" font-size="70.6" fill="#00b26e" textLength="38.6" lengthAdjust="spacingAndGlyphs">k</text>
<rect x="2474.5" y="50" width="82.5" height="1060" fill="#121212"/>
<clipPath id="c130"><rect x="2476" y="53" width="80" height="12"/></clipPath><g clip-path="url(#c130)">
<text x="2484.8" y="58.4" font-size="17.8" fill="#bcbec6" stroke="#bcbec6" stroke-width="0.3" textLength="58.8" lengthAdjust="spacingAndGlyphs">130,000</text>
</g>
<text x="2484.8" y="101.4" font-size="17.8" fill="#bcbec6" stroke="#bcbec6" stroke-width="0.3" textLength="58.8" lengthAdjust="spacingAndGlyphs">127,500</text>
<text x="2484.8" y="144.8" font-size="17.8" fill="#bcbec6" stroke="#bcbec6" stroke-width="0.3" textLength="58.8" lengthAdjust="spacingAndGlyphs">125,000</text>
<text x="2484.8" y="188.2" font-size="17.8" fill="#bcbec6" stroke="#bcbec6" stroke-width="0.3" textLength="58.8" lengthAdjust="spacingAndGlyphs">122,500</text>
<text x="2484.8" y="231.6" font-size="17.8" fill="#bcbec6" stroke="#bcbec6" stroke-width="0.3" textLength="58.8" lengthAdjust="spacingAndGlyphs">120,000</text>
<text x="2484.8" y="275.0" font-size="17.8" fill="#bcbec6" stroke="#bcbec6" stroke-width="0.3" textLength="58.8" lengthAdjust="spacingAndGlyphs">117,500</text>
<text x="2484.8" y="318.4" font-size="17.8" fill="#bcbec6" stroke="#bcbec6" stroke-width="0.3" textLength="58.8" lengthAdjust="spacingAndGlyphs">115,000</text>
<text x="2484.8" y="361.8" font-size="17.8" fill="#bcbec6" stroke="#bcbec6" stroke-width="0.3" textLength="58.8" lengthAdjust="spacingAndGlyphs">112,500</text>
<text x="2484.8" y="405.2" font-size="17.8" fill="#bcbec6" stroke="#bcbec6" stroke-width="0.3" textLength="58.8" lengthAdjust="spacingAndGlyphs">110,000</text>
<text x="2484.8" y="448.6" font-size="17.8" fill="#bcbec6" stroke="#bcbec6" stroke-width="0.3" textLength="58.8" lengthAdjust="spacingAndGlyphs">107,500</text>
<text x="2484.8" y="492.0" font-size="17.8" fill="#bcbec6" stroke="#bcbec6" stroke-width="0.3" textLength="58.8" lengthAdjust="spacingAndGlyphs">105,000</text>
<text x="2484.8" y="535.4" font-size="17.8" fill="#bcbec6" stroke="#bcbec6" stroke-width="0.3" textLength="58.8" lengthAdjust="spacingAndGlyphs">102,500</text>
<text x="2484.8" y="578.8" font-size="17.8" fill="#bcbec6" stroke="#bcbec6" stroke-width="0.3" textLength="58.8" lengthAdjust="spacingAndGlyphs">100,000</text>
<text x="2484.8" y="622.2" font-size="17.8" fill="#bcbec6" stroke="#bcbec6" stroke-width="0.3" textLength="49.3" lengthAdjust="spacingAndGlyphs">97,500</text>
<text x="2484.8" y="665.5" font-size="17.8" fill="#bcbec6" stroke="#bcbec6" stroke-width="0.3" textLength="49.3" lengthAdjust="spacingAndGlyphs">95,000</text>
<text x="2484.8" y="708.9" font-size="17.8" fill="#bcbec6" stroke="#bcbec6" stroke-width="0.3" textLength="49.3" lengthAdjust="spacingAndGlyphs">92,500</text>
<text x="2484.8" y="752.3" font-size="17.8" fill="#bcbec6" stroke="#bcbec6" stroke-width="0.3" textLength="49.3" lengthAdjust="spacingAndGlyphs">90,000</text>
<text x="2484.8" y="795.7" font-size="17.8" fill="#bcbec6" stroke="#bcbec6" stroke-width="0.3" textLength="49.3" lengthAdjust="spacingAndGlyphs">87,500</text>
<text x="2484.8" y="839.1" font-size="17.8" fill="#bcbec6" stroke="#bcbec6" stroke-width="0.3" textLength="49.3" lengthAdjust="spacingAndGlyphs">85,000</text>
<text x="2484.8" y="882.5" font-size="17.8" fill="#bcbec6" stroke="#bcbec6" stroke-width="0.3" textLength="49.3" lengthAdjust="spacingAndGlyphs">82,500</text>
<text x="2484.8" y="925.9" font-size="17.8" fill="#bcbec6" stroke="#bcbec6" stroke-width="0.3" textLength="49.3" lengthAdjust="spacingAndGlyphs">80,000</text>
<text x="2484.8" y="969.3" font-size="17.8" fill="#bcbec6" stroke="#bcbec6" stroke-width="0.3" textLength="49.3" lengthAdjust="spacingAndGlyphs">77,500</text>
<text x="2484.8" y="1012.7" font-size="17.8" fill="#bcbec6" stroke="#bcbec6" stroke-width="0.3" textLength="49.3" lengthAdjust="spacingAndGlyphs">75,000</text>
<text x="2484.8" y="1056.1" font-size="17.8" fill="#bcbec6" stroke="#bcbec6" stroke-width="0.3" textLength="49.3" lengthAdjust="spacingAndGlyphs">72,500</text>
<text x="2484.8" y="1099.5" font-size="17.8" fill="#bcbec6" stroke="#bcbec6" stroke-width="0.3" textLength="49.3" lengthAdjust="spacingAndGlyphs">70,000</text>
<rect x="2477.7" y="13.3" width="74.3" height="35" rx="6.5" fill="#0c0c0c" stroke="#454545" stroke-width="1.8"/>
<text x="2481.6" y="37" font-size="18.6" fill="#e4e4e4" textLength="34.3" lengthAdjust="spacingAndGlyphs">USD</text>
<path d="M2539.2 30.2 L2542.3 33 L2545.4 30.2" stroke="#e8e8e8" stroke-width="2.3" fill="none" stroke-linecap="round" stroke-linejoin="round"/>
<rect x="2472.4" y="299.5" width="79.2" height="44.2" rx="3" fill="#ffffff"/>
<text x="2484.8" y="317.3" font-size="17.8" fill="#161616" stroke="#161616" stroke-width="0.35" textLength="58.8" lengthAdjust="spacingAndGlyphs">115,192</text>
<text x="2484.8" y="336" font-size="16.5" fill="#575757" stroke="#575757" stroke-width="0.25" textLength="40.4" lengthAdjust="spacingAndGlyphs">04:26</text>
<text x="155" y="1133.3" font-size="17.6" fill="#b6b8c0" text-anchor="middle">Mar</text>
<text x="365" y="1133.3" font-size="17.6" fill="#b6b8c0" text-anchor="middle">Apr</text>
<text x="567.5" y="1133.3" font-size="17.6" fill="#b6b8c0" text-anchor="middle">May</text>
<text x="777.5" y="1133.3" font-size="17.6" fill="#b6b8c0" text-anchor="middle">Jun</text>
<text x="980.5" y="1133.3" font-size="17.6" fill="#b6b8c0" text-anchor="middle">Jul</text>
<text x="1190" y="1133.3" font-size="17.6" fill="#b6b8c0" text-anchor="middle">Aug</text>
<text x="1399.5" y="1133.3" font-size="17.6" fill="#b6b8c0" text-anchor="middle">Sep</text>
<text x="1602.5" y="1133.3" font-size="17.6" fill="#b6b8c0" text-anchor="middle">Oct</text>
<text x="1812" y="1133.3" font-size="17.6" fill="#b6b8c0" text-anchor="middle">Nov</text>
<text x="2015.5" y="1133.3" font-size="17.6" fill="#b6b8c0" text-anchor="middle">Dec</text>
<text x="2434.5" y="1133.3" font-size="17.6" fill="#b6b8c0" text-anchor="middle">Feb</text>
<text class="b" x="2225" y="1133.3" font-size="17.6" fill="#c6c8d0" text-anchor="middle">2026</text>
<g transform="translate(2515.5 1128.2)" fill="#060606" stroke="#c2c2c6" stroke-width="1.8" stroke-linejoin="round"><path d="M-9.9 0 L-5 -8.6 L5 -8.6 L9.9 0 L5 8.6 L-5 8.6 Z"/><circle r="2.6" stroke-width="1.8" fill="#000"/></g>
<g fill="#e0e0e0"><path d="M19.5 1067 H36.5 V1088 H27.5 V1076 H19.5 Z"/><circle cx="43.5" cy="1071.5" r="4.4"/><path d="M53.5 1067 H62 L53 1088 H44.5 Z"/></g>
<circle cx="28.1" cy="29.7" r="12.9" fill="#ff9100"/>
<text class="b" x="28.3" y="34.5" font-size="13.6" fill="#fff" text-anchor="middle" transform="rotate(13 28.1 29.7)">&#x20BF;</text>
<text x="47" y="38.3" font-size="23.6" fill="#c2c3c9" stroke="#c2c3c9" stroke-width="0.35" textLength="344.4" lengthAdjust="spacingAndGlyphs">Bitcoin / U.S. Dollar &#183; 1D &#183; Bitstamp</text>
<circle cx="415.2" cy="29.7" r="12.5" fill="#0d3332"/><circle cx="415.2" cy="29.7" r="6.6" fill="#0aa68b"/>
<text x="439.8" y="36.8" font-size="18.4" fill="#b8bac2" stroke="#b8bac2" stroke-width="0.3" textLength="11.8" lengthAdjust="spacingAndGlyphs">O</text>
<text x="455" y="36.8" font-size="18.4" fill="#37a2e2" stroke="#37a2e2" stroke-width="0.3" textLength="63.6" lengthAdjust="spacingAndGlyphs">110,769</text>
<text x="528" y="36.8" font-size="18.4" fill="#b8bac2" stroke="#b8bac2" stroke-width="0.3" textLength="11.6" lengthAdjust="spacingAndGlyphs">H</text>
<text x="543.3" y="36.8" font-size="18.4" fill="#37a2e2" stroke="#37a2e2" stroke-width="0.3" textLength="63.5" lengthAdjust="spacingAndGlyphs">115,854</text>
<text x="616" y="36.8" font-size="18.4" fill="#b8bac2" stroke="#b8bac2" stroke-width="0.3" textLength="8.8" lengthAdjust="spacingAndGlyphs">L</text>
<text x="628" y="36.8" font-size="18.4" fill="#37a2e2" stroke="#37a2e2" stroke-width="0.3" textLength="62.4" lengthAdjust="spacingAndGlyphs">109,711</text>
<text x="700" y="36.8" font-size="18.4" fill="#b8bac2" stroke="#b8bac2" stroke-width="0.3" textLength="12.2" lengthAdjust="spacingAndGlyphs">C</text>
<text x="715.5" y="36.8" font-size="18.4" fill="#37a2e2" stroke="#37a2e2" stroke-width="0.3" textLength="63.5" lengthAdjust="spacingAndGlyphs">115,192</text>
<text x="788.3" y="36.8" font-size="18.4" fill="#37a2e2" stroke="#37a2e2" stroke-width="0.3" textLength="131.3" lengthAdjust="spacingAndGlyphs">+4,428 (+4.00%)</text>
<rect x="15.2" y="53.3" width="91" height="45.8" rx="7" fill="#0e0e0e" stroke="#dc1a40" stroke-width="2"/>
<rect x="138.6" y="53.3" width="91.4" height="45.8" rx="7" fill="#0e0e0e" stroke="#1260d8" stroke-width="2"/>
<text class="b" x="30.7" y="72" font-size="17.4" fill="#ea1a40" stroke="#ea1a40" stroke-width="0.3" textLength="61.3" lengthAdjust="spacingAndGlyphs">115,192</text>
<text x="42.8" y="90.4" font-size="15.8" fill="#ea1a40" stroke="#ea1a40" stroke-width="0.3" textLength="36.2" lengthAdjust="spacingAndGlyphs">SELL</text>
<text class="b" x="153.8" y="72" font-size="17.4" fill="#1070ee" stroke="#1070ee" stroke-width="0.3" textLength="61.4" lengthAdjust="spacingAndGlyphs">115,193</text>
<text x="169.5" y="90.4" font-size="15.8" fill="#1070ee" stroke="#1070ee" stroke-width="0.3" textLength="29.5" lengthAdjust="spacingAndGlyphs">BUY</text>
<text x="119.6" y="80.6" font-size="15.4" fill="#cfcfcf" stroke="#cfcfcf" stroke-width="0.3" textLength="5.6" lengthAdjust="spacingAndGlyphs">1</text>
<text x="15.5" y="129.7" font-size="17.6" fill="#bec0c8" stroke="#bec0c8" stroke-width="0.3" textLength="306.2" lengthAdjust="spacingAndGlyphs">VRVP Number Of Rows 150 Up/Down</text>
<text x="333.4" y="129.7" font-size="17.6" fill="#12b4c8" stroke="#12b4c8" stroke-width="0.3" textLength="31.0" lengthAdjust="spacingAndGlyphs">2.27</text>
<text x="368.3" y="129.7" font-size="17.6" fill="#12b4c8" stroke="#12b4c8" stroke-width="0.3" textLength="14.7" lengthAdjust="spacingAndGlyphs">K</text>
<text x="391.7" y="129.7" font-size="17.6" fill="#e32a70" stroke="#e32a70" stroke-width="0.3" textLength="30.9" lengthAdjust="spacingAndGlyphs">2.73</text>
<text x="426.6" y="129.7" font-size="17.6" fill="#e32a70" stroke="#e32a70" stroke-width="0.3" textLength="14.4" lengthAdjust="spacingAndGlyphs">K</text>
<text x="449.7" y="129.7" font-size="17.6" fill="#d2d2d2" stroke="#d2d2d2" stroke-width="0.3" textLength="30.9" lengthAdjust="spacingAndGlyphs">5.01</text>
<text x="484.6" y="129.7" font-size="17.6" fill="#d2d2d2" stroke="#d2d2d2" stroke-width="0.3" textLength="13.4" lengthAdjust="spacingAndGlyphs">K</text>
<circle cx="512.6" cy="122.6" r="2.7" fill="#9a9a9a"/>
<circle cx="522.5" cy="122.6" r="2.7" fill="#9a9a9a"/>
<circle cx="532.4" cy="122.6" r="2.7" fill="#9a9a9a"/>
<text x="15.5" y="163.3" font-size="18" fill="#605a5e" stroke="#605a5e" stroke-width="0.3" textLength="73.2" lengthAdjust="spacingAndGlyphs">Vol &#183; BTC</text>
<g fill="none" stroke="#bebebe" stroke-width="1.9" stroke-linecap="round" stroke-linejoin="round"><path d="M103.4 156.3 C106.5 150.6 110 148.8 114.4 148.8 C118.8 148.8 122.3 150.6 125.4 156.3 C122.3 162 118.8 163.8 114.4 163.8 C110 163.8 106.5 162 103.4 156.3Z"/><circle cx="114.4" cy="156.3" r="3.2"/><path d="M105.9 164.7 L122.7 148" stroke="#121212" stroke-width="5"/><path d="M105.9 164.7 L122.7 148"/></g>
<rect x="15.2" y="178.1" width="38.6" height="27.8" rx="4.5" fill="#0e0e0e" stroke="#3d3d3d" stroke-width="1.8"/>
<path d="M29 194.9 L34.4 189.7 L39.8 194.9" stroke="#e4e4e4" stroke-width="2.1" fill="none" stroke-linecap="round" stroke-linejoin="round"/>
</svg></body></html>
